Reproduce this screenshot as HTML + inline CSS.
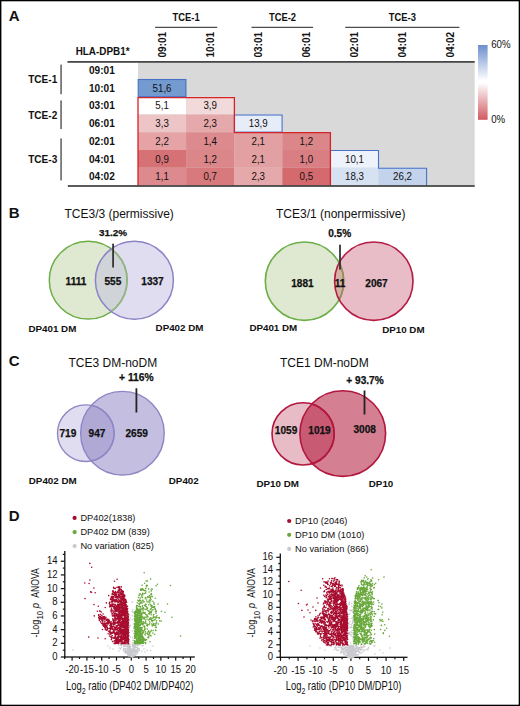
<!DOCTYPE html>
<html><head><meta charset="utf-8"><style>
html,body{margin:0;padding:0;background:#fff;}
svg{display:block;}
text{font-family:"Liberation Sans", sans-serif;fill:#111;}
.b{font-weight:bold;}
</style></head><body>
<svg width="520" height="706" viewBox="0 0 520 706">
<defs>
<linearGradient id="cb" x1="0" y1="0" x2="0" y2="1">
<stop offset="0" stop-color="#6a8fcc"/>
<stop offset="0.475" stop-color="#ffffff"/>
<stop offset="0.505" stop-color="#ffffff"/>
<stop offset="1" stop-color="#d05a62"/>
</linearGradient>
</defs>
<rect x="0" y="0" width="520" height="706" fill="#fff"/>

<text class="b" x="8.8" y="20.8" font-size="15">A</text>
<text class="b" x="8.8" y="217.6" font-size="15">B</text>
<text class="b" x="8.8" y="366.4" font-size="15">C</text>
<text class="b" x="8.8" y="520.9" font-size="15">D</text>
<rect x="138.0" y="62.5" width="336.70" height="123.0" fill="#d9d9d9"/>
<rect x="138.00" y="79.00" width="48.10" height="17.75" fill="#739bd0"/>
<rect x="138.00" y="96.75" width="48.10" height="17.75" fill="#ffffff"/>
<rect x="186.10" y="96.75" width="48.10" height="17.75" fill="#f2d9da"/>
<rect x="138.00" y="114.50" width="48.10" height="17.75" fill="#eec5c7"/>
<rect x="186.10" y="114.50" width="48.10" height="17.75" fill="#e6a9ab"/>
<rect x="234.20" y="114.50" width="48.10" height="17.75" fill="#e6edf8"/>
<rect x="138.00" y="132.25" width="48.10" height="17.75" fill="#e5a3a5"/>
<rect x="186.10" y="132.25" width="48.10" height="17.75" fill="#dc8a8d"/>
<rect x="234.20" y="132.25" width="48.10" height="17.75" fill="#e3a0a2"/>
<rect x="282.30" y="132.25" width="48.10" height="17.75" fill="#db878a"/>
<rect x="138.00" y="150.00" width="48.10" height="17.75" fill="#d67276"/>
<rect x="186.10" y="150.00" width="48.10" height="17.75" fill="#db878a"/>
<rect x="234.20" y="150.00" width="48.10" height="17.75" fill="#e3a0a2"/>
<rect x="282.30" y="150.00" width="48.10" height="17.75" fill="#d97f83"/>
<rect x="330.40" y="150.00" width="48.10" height="17.75" fill="#eef2fa"/>
<rect x="138.00" y="167.75" width="48.10" height="17.75" fill="#dc8a8d"/>
<rect x="186.10" y="167.75" width="48.10" height="17.75" fill="#d87a7d"/>
<rect x="234.20" y="167.75" width="48.10" height="17.75" fill="#e6a9ab"/>
<rect x="282.30" y="167.75" width="48.10" height="17.75" fill="#d4696e"/>
<rect x="330.40" y="167.75" width="48.10" height="17.75" fill="#d6e1f2"/>
<rect x="378.50" y="167.75" width="48.10" height="17.75" fill="#c3d3ec"/>
<text transform="translate(162.05,91.58) scale(0.92,1)" font-size="10.6" text-anchor="middle">51,6</text>
<text transform="translate(162.05,109.33) scale(0.92,1)" font-size="10.6" text-anchor="middle">5,1</text>
<text transform="translate(210.15,109.33) scale(0.92,1)" font-size="10.6" text-anchor="middle">3,9</text>
<text transform="translate(162.05,127.08) scale(0.92,1)" font-size="10.6" text-anchor="middle">3,3</text>
<text transform="translate(210.15,127.08) scale(0.92,1)" font-size="10.6" text-anchor="middle">2,3</text>
<text transform="translate(258.25,127.08) scale(0.92,1)" font-size="10.6" text-anchor="middle">13,9</text>
<text transform="translate(162.05,144.82) scale(0.92,1)" font-size="10.6" text-anchor="middle">2,2</text>
<text transform="translate(210.15,144.82) scale(0.92,1)" font-size="10.6" text-anchor="middle">1,4</text>
<text transform="translate(258.25,144.82) scale(0.92,1)" font-size="10.6" text-anchor="middle">2,1</text>
<text transform="translate(306.35,144.82) scale(0.92,1)" font-size="10.6" text-anchor="middle">1,2</text>
<text transform="translate(162.05,162.57) scale(0.92,1)" font-size="10.6" text-anchor="middle">0,9</text>
<text transform="translate(210.15,162.57) scale(0.92,1)" font-size="10.6" text-anchor="middle">1,2</text>
<text transform="translate(258.25,162.57) scale(0.92,1)" font-size="10.6" text-anchor="middle">2,1</text>
<text transform="translate(306.35,162.57) scale(0.92,1)" font-size="10.6" text-anchor="middle">1,0</text>
<text transform="translate(354.45,162.57) scale(0.92,1)" font-size="10.6" text-anchor="middle">10,1</text>
<text transform="translate(162.05,180.32) scale(0.92,1)" font-size="10.6" text-anchor="middle">1,1</text>
<text transform="translate(210.15,180.32) scale(0.92,1)" font-size="10.6" text-anchor="middle">0,7</text>
<text transform="translate(258.25,180.32) scale(0.92,1)" font-size="10.6" text-anchor="middle">2,3</text>
<text transform="translate(306.35,180.32) scale(0.92,1)" font-size="10.6" text-anchor="middle">0,5</text>
<text transform="translate(354.45,180.32) scale(0.92,1)" font-size="10.6" text-anchor="middle">18,3</text>
<text transform="translate(402.55,180.32) scale(0.92,1)" font-size="10.6" text-anchor="middle">26,2</text>
<rect x="138.20" y="79.50" width="47.70" height="17.15" fill="none" stroke="#4a72c4" stroke-width="1.1"/>
<rect x="234.40" y="115.00" width="47.70" height="17.15" fill="none" stroke="#4a72c4" stroke-width="1.1"/>
<path d="M330.40 150.50H378.50V168.25H426.60V185.50" fill="none" stroke="#4a72c4" stroke-width="1.1"/>
<path d="M138.00 185.50V97.60H234.40V132.60H330.40V185.50" fill="none" stroke="#d42428" stroke-width="1.3"/>
<rect x="67.5" y="61.1" width="407.2" height="1.6" fill="#333"/>
<rect x="67.8" y="185.2" width="406.9" height="1.6" fill="#333"/>
<text class="b" transform="translate(186.1,20.9) scale(0.84,1)" font-size="11.2" text-anchor="middle">TCE-1</text>
<rect x="155.1" y="26.8" width="62.1" height="1" fill="#222"/>
<text class="b" transform="translate(282.5,20.9) scale(0.84,1)" font-size="11.2" text-anchor="middle">TCE-2</text>
<rect x="251.5" y="26.8" width="61.6" height="1" fill="#222"/>
<text class="b" transform="translate(402.3,20.9) scale(0.84,1)" font-size="11.2" text-anchor="middle">TCE-3</text>
<rect x="345.2" y="26.8" width="114.2" height="1" fill="#222"/>
<text class="b" transform="translate(165.65,57.6) rotate(-90) scale(0.9,1)" font-size="11.2">09:01</text>
<text class="b" transform="translate(213.75,57.6) rotate(-90) scale(0.9,1)" font-size="11.2">10:01</text>
<text class="b" transform="translate(261.85,57.6) rotate(-90) scale(0.9,1)" font-size="11.2">03:01</text>
<text class="b" transform="translate(309.95,57.6) rotate(-90) scale(0.9,1)" font-size="11.2">06:01</text>
<text class="b" transform="translate(358.05,57.6) rotate(-90) scale(0.9,1)" font-size="11.2">02:01</text>
<text class="b" transform="translate(406.15,57.6) rotate(-90) scale(0.9,1)" font-size="11.2">04:01</text>
<text class="b" transform="translate(454.25,57.6) rotate(-90) scale(0.9,1)" font-size="11.2">04:02</text>
<text class="b" transform="translate(102.6,55.3) scale(0.9,1)" font-size="11" text-anchor="middle">HLA-DPB1*</text>
<text class="b" transform="translate(101.9,73.88) scale(0.9,1)" font-size="11.2" text-anchor="middle">09:01</text>
<text class="b" transform="translate(101.9,91.62) scale(0.9,1)" font-size="11.2" text-anchor="middle">10:01</text>
<text class="b" transform="translate(101.9,109.38) scale(0.9,1)" font-size="11.2" text-anchor="middle">03:01</text>
<text class="b" transform="translate(101.9,127.12) scale(0.9,1)" font-size="11.2" text-anchor="middle">06:01</text>
<text class="b" transform="translate(101.9,144.88) scale(0.9,1)" font-size="11.2" text-anchor="middle">02:01</text>
<text class="b" transform="translate(101.9,162.62) scale(0.9,1)" font-size="11.2" text-anchor="middle">04:01</text>
<text class="b" transform="translate(101.9,180.38) scale(0.9,1)" font-size="11.2" text-anchor="middle">04:02</text>
<text class="b" transform="translate(42.7,83.1) scale(0.9,1)" font-size="11.2" text-anchor="middle">TCE-1</text>
<rect x="60.5" y="64.6" width="1.1" height="29.6" fill="#222"/>
<text class="b" transform="translate(42.7,118.5) scale(0.9,1)" font-size="11.2" text-anchor="middle">TCE-2</text>
<rect x="60.5" y="100.4" width="1.1" height="28.6" fill="#222"/>
<text class="b" transform="translate(42.7,162.7) scale(0.9,1)" font-size="11.2" text-anchor="middle">TCE-3</text>
<rect x="60.5" y="138.4" width="1.1" height="42.0" fill="#222"/>
<rect x="478" y="45" width="9.6" height="74.8" fill="url(#cb)"/>
<text transform="translate(491.2,47.9) scale(0.88,1)" font-size="11">60%</text>
<text transform="translate(491.2,122.7) scale(0.88,1)" font-size="11">0%</text>
<text x="64.5" y="218" font-size="12">TCE3/3 (permissive)</text>
<text x="276" y="218" font-size="12">TCE3/1 (nonpermissive)</text>
<clipPath id="va1"><circle cx="88.2" cy="280.2" r="38.9"/></clipPath>
<clipPath id="vb1"><circle cx="134.4" cy="280.2" r="39.0"/></clipPath>
<circle cx="88.2" cy="280.2" r="38.9" fill="#dfe8d0"/>
<circle cx="134.4" cy="280.2" r="39.0" fill="#e0ddf0"/>
<circle cx="134.4" cy="280.2" r="39.0" fill="#d0d4d8" clip-path="url(#va1)"/>
<circle cx="88.2" cy="280.2" r="38.9" fill="none" stroke="#6cae48" stroke-width="1.5"/>
<circle cx="88.2" cy="280.2" r="38.9" fill="none" stroke="#94b585" stroke-width="1.5" clip-path="url(#vb1)"/>
<circle cx="134.4" cy="280.2" r="39.0" fill="none" stroke="#8a84c6" stroke-width="1.5"/>
<rect x="112.2" y="243.7" width="1.8" height="23.8" fill="#333"/>
<text class="b" x="113" y="236.3" font-size="9.9" text-anchor="middle" stroke="#111" stroke-width="0.25">31.2%</text>
<text class="b" x="76" y="284.6" font-size="10.1" text-anchor="middle" stroke="#111" stroke-width="0.25">1111</text>
<text class="b" x="112.9" y="284.6" font-size="10.1" text-anchor="middle" stroke="#111" stroke-width="0.25">555</text>
<text class="b" x="152.5" y="284.6" font-size="10.1" text-anchor="middle" stroke="#111" stroke-width="0.25">1337</text>
<text class="b" transform="translate(28.5,332.1) scale(1.1,1)" font-size="8.9">DP401 DM</text>
<text class="b" transform="translate(155.6,330.7) scale(1.1,1)" font-size="8.9">DP402 DM</text>
<clipPath id="va2"><circle cx="304.5" cy="281.2" r="39.2"/></clipPath>
<clipPath id="vb2"><circle cx="373.8" cy="281.2" r="39.2"/></clipPath>
<circle cx="304.5" cy="281.2" r="39.2" fill="#dfe8d0"/>
<circle cx="373.8" cy="281.2" r="39.2" fill="#e8bdc8"/>
<circle cx="373.8" cy="281.2" r="39.2" fill="#d5b0a6" clip-path="url(#va2)"/>
<circle cx="304.5" cy="281.2" r="39.2" fill="none" stroke="#6cae48" stroke-width="1.6"/>
<circle cx="304.5" cy="281.2" r="39.2" fill="none" stroke="#9c8a5a" stroke-width="1.6" clip-path="url(#vb2)"/>
<circle cx="373.8" cy="281.2" r="39.2" fill="none" stroke="#b51c45" stroke-width="1.6"/>
<rect x="339.1" y="244.7" width="1.8" height="24.9" fill="#333"/>
<text class="b" x="339.7" y="237.2" font-size="10.1" text-anchor="middle" stroke="#111" stroke-width="0.25">0.5%</text>
<text class="b" x="302.4" y="287" font-size="10.1" text-anchor="middle" stroke="#111" stroke-width="0.25">1881</text>
<text class="b" x="340" y="287" font-size="10.1" text-anchor="middle" stroke="#111" stroke-width="0.25">11</text>
<text class="b" x="376.5" y="287" font-size="10.1" text-anchor="middle" stroke="#111" stroke-width="0.25">2067</text>
<text class="b" transform="translate(249.4,331.0) scale(1.1,1)" font-size="8.9">DP401 DM</text>
<text class="b" transform="translate(382.2,332.5) scale(1.1,1)" font-size="8.9">DP10 DM</text>
<text x="68.5" y="366.8" font-size="12">TCE3 DM-noDM</text>
<text x="280" y="367.2" font-size="12">TCE1 DM-noDM</text>
<clipPath id="va3"><circle cx="85.8" cy="433.2" r="28.3"/></clipPath>
<clipPath id="vb3"><circle cx="122.45" cy="433.2" r="41.8"/></clipPath>
<circle cx="85.8" cy="433.2" r="28.3" fill="#e1ddf0"/>
<circle cx="122.45" cy="433.2" r="41.8" fill="#c4bfe0"/>
<circle cx="122.45" cy="433.2" r="41.8" fill="#b1a9d5" clip-path="url(#va3)"/>
<circle cx="85.8" cy="433.2" r="28.3" fill="none" stroke="#8e86c4" stroke-width="1.4"/>
<circle cx="85.8" cy="433.2" r="28.3" fill="none" stroke="#8e86c4" stroke-width="1.4" clip-path="url(#vb3)"/>
<circle cx="122.45" cy="433.2" r="41.8" fill="none" stroke="#8e86c4" stroke-width="1.4"/>
<rect x="135.5" y="388.3" width="1.8" height="24.2" fill="#222"/>
<text class="b" x="136.4" y="381.3" font-size="10.3" text-anchor="middle" stroke="#111" stroke-width="0.25">+ 116%</text>
<text class="b" x="67.9" y="436.5" font-size="10.1" text-anchor="middle" stroke="#111" stroke-width="0.25">719</text>
<text class="b" x="97" y="436.5" font-size="10.1" text-anchor="middle" stroke="#111" stroke-width="0.25">947</text>
<text class="b" x="136.7" y="436.5" font-size="10.1" text-anchor="middle" stroke="#111" stroke-width="0.25">2659</text>
<text class="b" transform="translate(28.8,483.8) scale(1.1,1)" font-size="8.9">DP402 DM</text>
<text class="b" transform="translate(168.8,483.8) scale(1.1,1)" font-size="8.9">DP402</text>
<clipPath id="va4"><circle cx="303.1" cy="433.85" r="31.1"/></clipPath>
<clipPath id="vb4"><circle cx="342.75" cy="433.55" r="42.85"/></clipPath>
<circle cx="303.1" cy="433.85" r="31.1" fill="#e8bcc6"/>
<circle cx="342.75" cy="433.55" r="42.85" fill="#d47f92"/>
<circle cx="342.75" cy="433.55" r="42.85" fill="#c85a74" clip-path="url(#va4)"/>
<circle cx="303.1" cy="433.85" r="31.1" fill="none" stroke="#b3173f" stroke-width="1.6"/>
<circle cx="303.1" cy="433.85" r="31.1" fill="none" stroke="#b3173f" stroke-width="1.6" clip-path="url(#vb4)"/>
<circle cx="342.75" cy="433.55" r="42.85" fill="none" stroke="#b3173f" stroke-width="1.6"/>
<rect x="363.6" y="390.5" width="1.8" height="24" fill="#222"/>
<text class="b" x="365" y="383.5" font-size="10.1" text-anchor="middle" stroke="#111" stroke-width="0.25">+ 93.7%</text>
<text class="b" x="286.1" y="433.8" font-size="10.1" text-anchor="middle" stroke="#111" stroke-width="0.25">1059</text>
<text class="b" x="319.5" y="433.8" font-size="10.1" text-anchor="middle" stroke="#111" stroke-width="0.25">1019</text>
<text class="b" x="364.7" y="432.5" font-size="10.1" text-anchor="middle" stroke="#111" stroke-width="0.25">3008</text>
<text class="b" transform="translate(256.5,487.0) scale(1.1,1)" font-size="8.9">DP10 DM</text>
<text class="b" transform="translate(368.8,487.0) scale(1.1,1)" font-size="8.9">DP10</text>
<circle cx="74.6" cy="517.90" r="2.1" fill="#a80d30"/>
<text x="80.40" y="521.1" font-size="9.25">DP402(1838)</text>
<circle cx="74.6" cy="532.10" r="2.1" fill="#69a93c"/>
<text x="80.40" y="535.3" font-size="9.25">DP402 DM (839)</text>
<circle cx="74.6" cy="546.10" r="2.1" fill="#c9c9d0"/>
<text x="80.40" y="549.3" font-size="9.25">No variation (825)</text>
<circle cx="289.2" cy="521.00" r="2.1" fill="#a80d30"/>
<text x="295.00" y="524.2" font-size="9.25">DP10 (2046)</text>
<circle cx="289.2" cy="534.80" r="2.1" fill="#69a93c"/>
<text x="295.00" y="538.0" font-size="9.25">DP10 DM (1010)</text>
<circle cx="289.2" cy="548.90" r="2.1" fill="#c9c9d0"/>
<text x="295.00" y="552.1" font-size="9.25">No variation (866)</text>
<rect x="64.15" y="551" width="1.3" height="106.60" fill="#111"/>
<rect x="60.80" y="656.40" width="4" height="1.2" fill="#111"/>
<text transform="translate(57.50,660.10) scale(0.9,1)" font-size="10.6" text-anchor="end">0</text>
<rect x="62.80" y="649.56" width="2" height="1.2" fill="#111"/>
<rect x="60.80" y="642.72" width="4" height="1.2" fill="#111"/>
<text transform="translate(57.50,646.42) scale(0.9,1)" font-size="10.6" text-anchor="end">2</text>
<rect x="62.80" y="635.88" width="2" height="1.2" fill="#111"/>
<rect x="60.80" y="629.04" width="4" height="1.2" fill="#111"/>
<text transform="translate(57.50,632.74) scale(0.9,1)" font-size="10.6" text-anchor="end">4</text>
<rect x="62.80" y="622.20" width="2" height="1.2" fill="#111"/>
<rect x="60.80" y="615.36" width="4" height="1.2" fill="#111"/>
<text transform="translate(57.50,619.06) scale(0.9,1)" font-size="10.6" text-anchor="end">6</text>
<rect x="62.80" y="608.52" width="2" height="1.2" fill="#111"/>
<rect x="60.80" y="601.68" width="4" height="1.2" fill="#111"/>
<text transform="translate(57.50,605.38) scale(0.9,1)" font-size="10.6" text-anchor="end">8</text>
<rect x="62.80" y="594.84" width="2" height="1.2" fill="#111"/>
<rect x="60.80" y="588.00" width="4" height="1.2" fill="#111"/>
<text transform="translate(57.50,591.70) scale(0.9,1)" font-size="10.6" text-anchor="end">10</text>
<rect x="62.80" y="581.16" width="2" height="1.2" fill="#111"/>
<rect x="60.80" y="574.32" width="4" height="1.2" fill="#111"/>
<text transform="translate(57.50,578.02) scale(0.9,1)" font-size="10.6" text-anchor="end">12</text>
<rect x="62.80" y="567.48" width="2" height="1.2" fill="#111"/>
<rect x="60.80" y="560.64" width="4" height="1.2" fill="#111"/>
<text transform="translate(57.50,564.34) scale(0.9,1)" font-size="10.6" text-anchor="end">14</text>
<rect x="62.80" y="553.80" width="2" height="1.2" fill="#111"/>
<rect x="64.20" y="656.35" width="130.60" height="1.3" fill="#111"/>
<rect x="71.50" y="657.0" width="1.2" height="3.6" fill="#111"/>
<text transform="translate(72.10,673.40) scale(0.9,1)" font-size="10.6" text-anchor="middle">-20</text>
<rect x="86.30" y="657.0" width="1.2" height="3.6" fill="#111"/>
<text transform="translate(86.90,673.40) scale(0.9,1)" font-size="10.6" text-anchor="middle">-15</text>
<rect x="101.10" y="657.0" width="1.2" height="3.6" fill="#111"/>
<text transform="translate(101.70,673.40) scale(0.9,1)" font-size="10.6" text-anchor="middle">-10</text>
<rect x="115.90" y="657.0" width="1.2" height="3.6" fill="#111"/>
<text transform="translate(116.50,673.40) scale(0.9,1)" font-size="10.6" text-anchor="middle">-5</text>
<rect x="130.70" y="657.0" width="1.2" height="3.6" fill="#111"/>
<text transform="translate(131.30,673.40) scale(0.9,1)" font-size="10.6" text-anchor="middle">0</text>
<rect x="145.50" y="657.0" width="1.2" height="3.6" fill="#111"/>
<text transform="translate(146.10,673.40) scale(0.9,1)" font-size="10.6" text-anchor="middle">5</text>
<rect x="160.30" y="657.0" width="1.2" height="3.6" fill="#111"/>
<text transform="translate(160.90,673.40) scale(0.9,1)" font-size="10.6" text-anchor="middle">10</text>
<rect x="175.10" y="657.0" width="1.2" height="3.6" fill="#111"/>
<text transform="translate(175.70,673.40) scale(0.9,1)" font-size="10.6" text-anchor="middle">15</text>
<rect x="189.90" y="657.0" width="1.2" height="3.6" fill="#111"/>
<text transform="translate(190.50,673.40) scale(0.9,1)" font-size="10.6" text-anchor="middle">20</text>
<rect x="64.10" y="657.0" width="1.2" height="2" fill="#111"/>
<rect x="78.90" y="657.0" width="1.2" height="2" fill="#111"/>
<rect x="93.70" y="657.0" width="1.2" height="2" fill="#111"/>
<rect x="108.50" y="657.0" width="1.2" height="2" fill="#111"/>
<rect x="123.30" y="657.0" width="1.2" height="2" fill="#111"/>
<rect x="138.10" y="657.0" width="1.2" height="2" fill="#111"/>
<rect x="152.90" y="657.0" width="1.2" height="2" fill="#111"/>
<rect x="167.70" y="657.0" width="1.2" height="2" fill="#111"/>
<rect x="182.50" y="657.0" width="1.2" height="2" fill="#111"/>
<rect x="279.65" y="553.5" width="1.3" height="104.40" fill="#111"/>
<rect x="276.30" y="656.70" width="4" height="1.2" fill="#111"/>
<text transform="translate(273.00,660.40) scale(0.9,1)" font-size="10.6" text-anchor="end">0</text>
<rect x="278.30" y="650.45" width="2" height="1.2" fill="#111"/>
<rect x="276.30" y="644.20" width="4" height="1.2" fill="#111"/>
<text transform="translate(273.00,647.90) scale(0.9,1)" font-size="10.6" text-anchor="end">2</text>
<rect x="278.30" y="637.95" width="2" height="1.2" fill="#111"/>
<rect x="276.30" y="631.70" width="4" height="1.2" fill="#111"/>
<text transform="translate(273.00,635.40) scale(0.9,1)" font-size="10.6" text-anchor="end">4</text>
<rect x="278.30" y="625.45" width="2" height="1.2" fill="#111"/>
<rect x="276.30" y="619.20" width="4" height="1.2" fill="#111"/>
<text transform="translate(273.00,622.90) scale(0.9,1)" font-size="10.6" text-anchor="end">6</text>
<rect x="278.30" y="612.95" width="2" height="1.2" fill="#111"/>
<rect x="276.30" y="606.70" width="4" height="1.2" fill="#111"/>
<text transform="translate(273.00,610.40) scale(0.9,1)" font-size="10.6" text-anchor="end">8</text>
<rect x="278.30" y="600.45" width="2" height="1.2" fill="#111"/>
<rect x="276.30" y="594.20" width="4" height="1.2" fill="#111"/>
<text transform="translate(273.00,597.90) scale(0.9,1)" font-size="10.6" text-anchor="end">10</text>
<rect x="278.30" y="587.95" width="2" height="1.2" fill="#111"/>
<rect x="276.30" y="581.70" width="4" height="1.2" fill="#111"/>
<text transform="translate(273.00,585.40) scale(0.9,1)" font-size="10.6" text-anchor="end">12</text>
<rect x="278.30" y="575.45" width="2" height="1.2" fill="#111"/>
<rect x="276.30" y="569.20" width="4" height="1.2" fill="#111"/>
<text transform="translate(273.00,572.90) scale(0.9,1)" font-size="10.6" text-anchor="end">14</text>
<rect x="278.30" y="562.95" width="2" height="1.2" fill="#111"/>
<rect x="276.30" y="556.70" width="4" height="1.2" fill="#111"/>
<text transform="translate(273.00,560.40) scale(0.9,1)" font-size="10.6" text-anchor="end">16</text>
<rect x="279.60" y="656.65" width="127.90" height="1.3" fill="#111"/>
<rect x="279.90" y="657.3" width="1.2" height="3.6" fill="#111"/>
<text transform="translate(280.50,673.70) scale(0.9,1)" font-size="10.6" text-anchor="middle">-20</text>
<rect x="297.50" y="657.3" width="1.2" height="3.6" fill="#111"/>
<text transform="translate(298.10,673.70) scale(0.9,1)" font-size="10.6" text-anchor="middle">-15</text>
<rect x="315.10" y="657.3" width="1.2" height="3.6" fill="#111"/>
<text transform="translate(315.70,673.70) scale(0.9,1)" font-size="10.6" text-anchor="middle">-10</text>
<rect x="332.70" y="657.3" width="1.2" height="3.6" fill="#111"/>
<text transform="translate(333.30,673.70) scale(0.9,1)" font-size="10.6" text-anchor="middle">-5</text>
<rect x="350.30" y="657.3" width="1.2" height="3.6" fill="#111"/>
<text transform="translate(350.90,673.70) scale(0.9,1)" font-size="10.6" text-anchor="middle">0</text>
<rect x="367.90" y="657.3" width="1.2" height="3.6" fill="#111"/>
<text transform="translate(368.50,673.70) scale(0.9,1)" font-size="10.6" text-anchor="middle">5</text>
<rect x="385.50" y="657.3" width="1.2" height="3.6" fill="#111"/>
<text transform="translate(386.10,673.70) scale(0.9,1)" font-size="10.6" text-anchor="middle">10</text>
<rect x="403.10" y="657.3" width="1.2" height="3.6" fill="#111"/>
<text transform="translate(403.70,673.70) scale(0.9,1)" font-size="10.6" text-anchor="middle">15</text>
<rect x="288.70" y="657.3" width="1.2" height="2" fill="#111"/>
<rect x="306.30" y="657.3" width="1.2" height="2" fill="#111"/>
<rect x="323.90" y="657.3" width="1.2" height="2" fill="#111"/>
<rect x="341.50" y="657.3" width="1.2" height="2" fill="#111"/>
<rect x="359.10" y="657.3" width="1.2" height="2" fill="#111"/>
<rect x="376.70" y="657.3" width="1.2" height="2" fill="#111"/>
<rect x="394.30" y="657.3" width="1.2" height="2" fill="#111"/>
<text transform="translate(65.9,690.4) scale(0.765,1)" font-size="12.4">Log<tspan font-size="9.2" dy="4">2</tspan><tspan dy="-4"> ratio (DP402 DM/DP402)</tspan></text>
<text transform="translate(285.8,690.4) scale(0.755,1)" font-size="12.4">Log<tspan font-size="9.2" dy="4">2</tspan><tspan dy="-4"> ratio (DP10 DM/DP10)</tspan></text>
<text transform="translate(38.90,637.6) rotate(-90) scale(0.76,1)" font-size="11.8">-Log</text>
<text transform="translate(43.30,619.6) rotate(-90) scale(0.85,1)" font-size="9.2">10</text>
<text transform="translate(38.90,608.2) rotate(-90) scale(0.8,1)" font-size="11.8" font-style="italic">p</text>
<text transform="translate(38.90,597.7) rotate(-90) scale(0.73,1)" font-size="11.8">ANOVA</text>
<text transform="translate(255.10,637.6) rotate(-90) scale(0.76,1)" font-size="11.8">-Log</text>
<text transform="translate(259.50,619.6) rotate(-90) scale(0.85,1)" font-size="9.2">10</text>
<text transform="translate(255.10,608.2) rotate(-90) scale(0.8,1)" font-size="11.8" font-style="italic">p</text>
<text transform="translate(255.10,597.7) rotate(-90) scale(0.73,1)" font-size="11.8">ANOVA</text>
<path d="M126.3 651.8h0M134.8 645.0h0M130.8 656.4h0M138.5 649.3h0M130.7 654.4h0M133.6 645.0h0M134.3 647.1h0M130.8 652.9h0M129.4 651.6h0M131.1 650.9h0M131.3 649.5h0M120.5 648.2h0M135.7 650.6h0M135.4 654.8h0M125.8 650.6h0M131.2 653.6h0M130.5 646.4h0M130.9 653.4h0M127.1 644.4h0M142.1 645.9h0M130.9 652.1h0M136.6 649.9h0M128.3 647.6h0M130.3 652.9h0M133.4 645.5h0M132.9 650.4h0M133.8 655.5h0M124.5 644.6h0M132.4 650.1h0M133.0 649.6h0M128.9 650.5h0M132.6 649.3h0M123.7 645.5h0M129.7 647.2h0M127.8 648.3h0M121.8 647.0h0M127.6 654.0h0M128.4 646.0h0M132.8 651.0h0M128.8 655.3h0M129.4 655.6h0M134.5 646.5h0M135.2 652.5h0M125.0 649.7h0M128.8 654.4h0M129.3 644.9h0M136.2 652.3h0M133.1 651.6h0M127.8 654.8h0M130.7 655.9h0M129.5 648.3h0M132.4 644.8h0M134.5 645.7h0M131.7 650.2h0M131.5 654.2h0M130.3 656.1h0M138.0 648.4h0M129.4 649.7h0M126.6 645.9h0M138.9 645.0h0M131.1 649.5h0M133.3 648.2h0M120.3 645.2h0M132.4 644.8h0M131.0 649.1h0M131.7 654.7h0M129.5 650.6h0M129.6 644.7h0M127.8 652.5h0M132.3 652.7h0M133.3 652.9h0M129.5 645.7h0M133.8 651.3h0M130.4 649.4h0M135.1 645.7h0M127.0 646.8h0M139.5 650.5h0M131.5 652.9h0M128.9 647.0h0M137.2 647.3h0M133.4 647.8h0M135.3 652.6h0M128.1 648.7h0M128.2 650.5h0M120.5 644.9h0M128.0 653.7h0M126.2 653.0h0M131.0 649.2h0M129.2 654.6h0M120.6 649.1h0M129.6 652.0h0M137.7 647.7h0M130.8 655.2h0M129.4 646.6h0M128.0 651.3h0M131.8 652.9h0M127.8 646.3h0M135.1 649.3h0M137.9 651.1h0M132.7 651.1h0M135.5 654.0h0M130.4 651.3h0M132.2 649.9h0M132.3 654.1h0M131.3 650.7h0M134.5 655.0h0M134.7 651.1h0M127.8 653.0h0M125.2 645.2h0M128.9 644.9h0M131.3 651.7h0M134.8 648.9h0M127.4 653.6h0M131.9 652.1h0M134.3 655.5h0M128.7 647.8h0M123.4 650.6h0M134.9 654.6h0M136.6 651.4h0M131.6 655.7h0M129.8 650.1h0M130.1 644.6h0M138.9 648.9h0M130.0 652.1h0M127.8 654.8h0M129.7 649.5h0M120.7 644.7h0M136.3 651.4h0M126.5 652.6h0M130.3 649.3h0M129.5 654.8h0M129.6 652.1h0M128.4 645.4h0M133.3 646.4h0M130.5 652.7h0M123.9 646.1h0M132.9 650.9h0M135.7 646.0h0M134.5 650.7h0M125.1 652.9h0M124.0 649.3h0M127.8 655.0h0M129.4 655.5h0M131.6 655.4h0M127.0 651.4h0M127.2 650.2h0M137.4 649.8h0M121.2 645.3h0M124.0 651.3h0M133.0 650.6h0M137.7 648.1h0M126.5 646.7h0M124.7 648.8h0M132.4 651.7h0M130.1 652.1h0M131.8 650.0h0M137.4 648.6h0M134.3 649.5h0M129.4 645.7h0M135.2 651.3h0M131.0 655.8h0M130.7 650.1h0M133.9 646.3h0M134.3 648.2h0M131.4 649.3h0M131.7 654.0h0M131.1 651.0h0M128.2 644.6h0M137.8 645.5h0M135.7 654.0h0M135.2 651.8h0M131.6 657.0h0M132.6 645.7h0M118.7 645.1h0M131.6 651.6h0M120.7 645.3h0M124.8 648.9h0M132.6 656.9h0M127.2 645.4h0M127.6 649.8h0M138.9 648.9h0M127.4 644.6h0M130.8 653.0h0M127.3 650.7h0M134.4 652.7h0M125.1 646.5h0M133.4 655.3h0M134.6 652.5h0M131.6 654.3h0M132.1 651.6h0M136.1 647.2h0M130.7 652.8h0M123.7 646.7h0M139.3 644.7h0M123.5 648.8h0M133.9 651.2h0M133.5 649.1h0M128.0 653.2h0M136.8 644.8h0M129.1 654.0h0M135.9 644.6h0M133.4 654.8h0M129.7 646.5h0M130.4 648.0h0M130.3 654.5h0M131.6 650.0h0M139.1 648.6h0M130.0 653.1h0M127.6 653.7h0M129.2 648.6h0M133.9 651.9h0M132.9 648.1h0M132.1 655.4h0M125.9 648.8h0M130.3 656.1h0M129.2 647.0h0M132.7 656.9h0M125.2 651.8h0M129.4 648.3h0M123.8 646.3h0M134.5 651.0h0M138.0 648.4h0M130.1 647.1h0M131.4 653.7h0M133.7 649.8h0M127.0 644.3h0M130.3 648.6h0M131.1 654.6h0M135.6 645.1h0M135.1 647.0h0M129.9 648.6h0M142.5 645.7h0M128.4 647.5h0M130.7 652.4h0M127.3 645.0h0M132.8 651.5h0M135.5 647.6h0M138.7 649.6h0M132.7 653.4h0M127.3 648.4h0M128.9 651.0h0M128.8 652.6h0M132.9 644.8h0M130.7 654.3h0M128.5 649.0h0M128.8 645.8h0M128.5 649.1h0M127.4 645.6h0M128.1 652.9h0M135.2 650.4h0M126.9 644.3h0M130.5 648.1h0M135.1 651.3h0M130.4 646.9h0M128.8 655.9h0M129.5 655.3h0M133.0 649.6h0M134.0 650.5h0M130.0 648.0h0M130.7 655.6h0M133.8 648.5h0M134.9 649.5h0M131.5 655.7h0M138.1 651.8h0M133.3 644.9h0M132.3 655.7h0M137.5 653.1h0M121.4 645.2h0M132.4 651.8h0M133.0 652.1h0M133.2 656.4h0M125.0 649.0h0M132.2 646.1h0M133.3 655.4h0M130.8 649.9h0M137.5 645.3h0M131.1 652.0h0M123.5 644.7h0M138.3 649.2h0M128.5 655.5h0M136.8 649.9h0M135.1 655.4h0M143.0 645.6h0M129.4 650.9h0M132.4 652.1h0M119.4 648.0h0M128.6 651.5h0M130.8 656.4h0M129.5 648.3h0M129.2 648.2h0M125.5 652.0h0M135.8 652.7h0M136.5 654.2h0M131.2 656.8h0M134.4 645.0h0M133.0 653.1h0M139.0 649.3h0M131.9 649.2h0M129.0 633.0h0M132.6 609.9h0M129.7 620.3h0M128.9 635.6h0M132.3 611.4h0M130.5 618.0h0M129.8 626.5h0M132.5 637.6h0M133.5 633.5h0M132.2 602.3h0M134.0 628.4h0M132.3 615.8h0M132.4 631.0h0M129.0 632.9h0M132.9 640.3h0M133.7 640.2h0M133.0 612.4h0M130.4 625.3h0M132.3 619.5h0M130.3 637.1h0M129.3 620.7h0M132.4 643.1h0M129.8 641.5h0M132.5 602.1h0M133.9 628.7h0M129.6 614.9h0M147.2 650.4h0M150.6 650.4h0M73.0 650.0h0M110.0 648.0h0M153.0 646.0h0M108.0 646.0h0M145.0 652.0h0M113.0 649.0h0M142.0 651.0h0M144.0 649.0h0M119.0 651.0h0" stroke="#c9c9d0" stroke-width="1.5" stroke-linecap="round" fill="none"/>
<path d="M117.1 633.8h0M114.3 594.3h0M114.7 633.2h0M120.3 622.9h0M119.6 589.6h0M127.7 613.4h0M125.1 635.9h0M112.0 599.4h0M118.3 620.1h0M116.4 609.1h0M121.3 589.6h0M120.9 594.6h0M115.5 607.0h0M125.7 643.4h0M118.3 591.0h0M127.8 616.5h0M128.4 635.9h0M113.7 607.2h0M128.5 635.3h0M125.1 628.8h0M119.0 606.6h0M112.9 599.1h0M126.8 634.6h0M121.7 632.2h0M123.7 613.6h0M125.3 642.7h0M115.5 617.7h0M112.7 600.6h0M113.3 619.9h0M124.7 596.0h0M123.2 618.2h0M127.0 611.6h0M127.6 626.4h0M124.4 637.8h0M123.0 624.2h0M126.4 641.9h0M115.3 597.3h0M119.7 611.5h0M124.5 642.2h0M127.0 633.3h0M120.0 626.5h0M121.3 632.3h0M126.0 612.2h0M119.7 639.6h0M113.3 592.3h0M114.3 614.9h0M125.1 611.0h0M125.4 608.7h0M122.4 642.8h0M125.4 626.8h0M116.7 606.1h0M123.5 600.8h0M126.2 624.8h0M111.6 611.8h0M128.0 642.2h0M114.7 606.6h0M112.5 615.2h0M123.0 636.8h0M115.1 642.9h0M123.2 623.2h0M125.4 637.6h0M123.4 632.9h0M124.8 633.8h0M126.6 625.5h0M111.1 606.8h0M125.5 618.3h0M121.2 625.3h0M123.7 615.1h0M128.3 614.6h0M121.0 623.2h0M114.6 618.8h0M122.5 625.1h0M117.6 601.5h0M118.3 587.4h0M118.4 612.1h0M123.7 634.5h0M115.8 610.7h0M126.4 632.9h0M127.0 640.4h0M121.5 602.5h0M118.0 605.9h0M123.5 642.4h0M116.4 595.7h0M111.2 597.1h0M123.7 609.9h0M119.1 607.8h0M121.2 635.9h0M126.7 613.4h0M127.3 633.7h0M117.7 617.9h0M121.6 603.6h0M119.1 619.7h0M113.0 620.7h0M121.5 637.1h0M122.8 603.8h0M118.6 625.0h0M123.5 615.2h0M125.1 599.3h0M118.5 596.8h0M111.4 608.7h0M122.0 607.9h0M115.2 595.8h0M125.2 611.0h0M125.0 630.3h0M123.6 637.9h0M114.9 601.9h0M124.2 621.1h0M123.8 600.3h0M123.5 597.5h0M120.2 604.9h0M121.7 643.3h0M114.4 592.9h0M128.2 619.7h0M121.0 598.6h0M111.3 597.8h0M120.6 623.7h0M112.2 604.0h0M124.6 617.7h0M121.4 591.3h0M122.6 609.7h0M114.7 641.1h0M120.0 606.6h0M126.0 643.6h0M116.0 615.2h0M124.8 641.9h0M124.4 598.8h0M125.7 633.9h0M116.2 593.1h0M123.2 637.9h0M119.9 629.8h0M124.3 612.5h0M118.1 592.2h0M124.3 615.6h0M115.6 629.7h0M118.6 639.2h0M113.8 615.2h0M122.3 637.8h0M119.2 622.8h0M126.2 618.1h0M116.4 632.1h0M128.6 619.4h0M124.0 611.6h0M125.1 600.7h0M128.5 619.9h0M113.0 623.7h0M110.6 606.6h0M120.3 620.0h0M121.1 613.4h0M116.6 601.3h0M121.6 618.5h0M116.7 599.7h0M119.6 640.4h0M112.0 603.9h0M124.4 627.4h0M125.6 629.1h0M123.5 612.2h0M110.5 599.4h0M125.6 627.1h0M127.7 629.1h0M126.4 605.0h0M126.9 622.5h0M122.0 642.6h0M115.4 594.2h0M125.7 632.9h0M125.2 622.5h0M123.9 597.8h0M125.8 621.7h0M115.5 604.9h0M119.1 595.3h0M124.6 628.4h0M124.5 626.1h0M121.3 612.8h0M126.9 610.9h0M123.7 610.3h0M121.5 612.2h0M124.4 627.2h0M121.8 631.0h0M118.4 642.3h0M127.6 616.0h0M117.0 626.4h0M127.6 616.5h0M124.8 608.7h0M124.9 622.7h0M125.1 613.1h0M115.6 635.2h0M123.1 602.3h0M121.4 624.1h0M127.3 635.4h0M121.3 586.9h0M127.8 623.9h0M119.2 628.9h0M126.4 618.1h0M125.5 607.7h0M121.4 622.8h0M118.3 637.9h0M123.1 622.1h0M126.0 607.2h0M119.1 630.5h0M116.6 615.1h0M124.6 605.1h0M123.1 637.2h0M109.4 603.4h0M127.0 621.4h0M117.7 630.1h0M119.9 600.9h0M121.5 640.0h0M120.0 588.3h0M118.1 609.8h0M121.5 598.3h0M121.2 627.0h0M128.1 627.5h0M114.7 628.2h0M126.0 614.1h0M127.7 631.4h0M122.7 633.8h0M120.7 603.8h0M126.5 607.8h0M125.0 637.3h0M120.8 625.2h0M124.5 612.6h0M124.9 630.6h0M112.3 597.1h0M116.6 615.9h0M115.4 616.0h0M126.1 614.1h0M127.7 630.3h0M120.6 609.0h0M122.1 608.7h0M124.4 627.0h0M127.6 625.1h0M120.5 629.8h0M115.0 600.9h0M118.2 595.7h0M111.3 611.9h0M127.3 634.7h0M118.1 622.3h0M123.0 618.0h0M126.2 601.4h0M114.9 638.2h0M126.7 624.6h0M118.1 602.5h0M128.8 639.5h0M114.3 637.8h0M115.4 594.1h0M125.4 616.4h0M117.3 638.7h0M120.1 594.0h0M124.1 627.1h0M120.8 614.6h0M125.0 619.7h0M116.7 627.7h0M126.0 614.5h0M125.1 636.0h0M127.9 614.6h0M119.2 617.1h0M122.7 597.3h0M118.6 602.2h0M120.1 629.2h0M125.3 640.2h0M115.3 599.9h0M127.9 640.0h0M117.0 622.6h0M118.7 587.2h0M117.2 641.0h0M114.6 623.4h0M114.3 600.1h0M120.0 623.6h0M122.9 612.6h0M120.9 613.1h0M116.2 619.9h0M115.6 635.8h0M119.8 614.4h0M124.2 595.2h0M126.2 611.4h0M123.5 594.9h0M125.7 633.5h0M124.0 619.9h0M128.0 619.1h0M124.4 636.4h0M123.2 602.9h0M119.7 608.2h0M124.5 635.1h0M117.5 596.6h0M117.1 638.6h0M119.0 625.6h0M115.7 620.4h0M127.7 625.1h0M128.1 614.1h0M121.1 643.6h0M119.2 633.2h0M126.5 610.3h0M125.6 619.9h0M116.8 593.0h0M115.0 627.4h0M111.9 601.4h0M126.8 619.7h0M117.6 608.3h0M117.4 621.8h0M125.0 603.6h0M118.3 631.8h0M111.9 606.7h0M116.3 609.3h0M115.6 600.2h0M114.2 599.7h0M122.0 605.7h0M122.8 591.4h0M116.1 641.4h0M127.8 615.2h0M120.4 607.3h0M114.7 608.5h0M114.9 624.3h0M111.1 602.0h0M122.3 624.4h0M115.6 622.3h0M123.4 627.2h0M120.0 627.4h0M117.3 625.6h0M124.2 602.6h0M125.8 621.1h0M125.3 602.3h0M121.2 612.2h0M122.6 610.8h0M122.7 632.6h0M119.5 600.4h0M115.7 609.8h0M122.1 599.7h0M114.3 606.8h0M109.6 602.2h0M122.7 611.9h0M123.0 642.7h0M121.7 600.5h0M124.2 634.5h0M125.7 639.6h0M115.9 634.1h0M126.9 640.6h0M118.6 595.1h0M125.8 631.5h0M119.9 606.1h0M128.2 638.5h0M128.3 641.6h0M122.2 621.2h0M121.6 603.3h0M119.2 618.6h0M126.6 617.7h0M126.0 600.7h0M126.0 617.8h0M128.6 627.7h0M125.3 608.7h0M128.0 618.5h0M122.3 633.7h0M127.3 625.0h0M120.3 592.6h0M126.2 632.3h0M122.3 608.7h0M109.9 605.0h0M126.6 620.1h0M120.2 608.4h0M127.9 643.3h0M124.2 622.6h0M126.2 640.3h0M118.8 622.7h0M119.6 609.5h0M118.2 607.2h0M113.2 606.2h0M114.6 595.8h0M119.6 640.2h0M127.2 619.7h0M113.9 626.7h0M126.0 623.5h0M126.3 605.7h0M113.6 612.8h0M123.2 605.0h0M125.0 610.5h0M115.8 643.2h0M115.9 594.6h0M123.5 639.3h0M118.6 622.8h0M124.7 612.6h0M121.2 599.0h0M113.8 611.1h0M112.8 618.9h0M126.0 636.2h0M123.7 633.6h0M126.4 606.8h0M126.0 643.5h0M123.4 591.6h0M118.5 639.1h0M126.4 628.3h0M112.0 601.3h0M116.7 618.2h0M123.0 609.1h0M117.0 642.2h0M116.3 609.7h0M120.8 639.5h0M120.9 607.8h0M124.4 638.5h0M125.8 615.5h0M121.2 629.0h0M122.9 608.7h0M120.9 625.1h0M121.2 617.4h0M118.1 598.8h0M127.3 616.6h0M119.2 633.0h0M126.6 636.2h0M124.8 616.1h0M122.6 612.0h0M124.7 629.9h0M122.3 607.2h0M120.0 589.3h0M123.1 601.9h0M115.9 627.2h0M128.2 627.1h0M122.0 605.0h0M123.8 607.9h0M110.8 598.8h0M122.9 613.9h0M115.2 616.0h0M113.8 604.1h0M125.9 618.1h0M113.6 597.7h0M118.4 619.7h0M117.5 636.8h0M117.2 623.0h0M122.1 625.0h0M112.6 591.8h0M124.4 641.0h0M122.4 594.9h0M125.5 603.0h0M115.0 634.6h0M124.7 642.6h0M128.7 640.3h0M118.5 639.7h0M119.4 591.1h0M127.7 623.9h0M115.2 612.0h0M124.5 620.4h0M118.2 594.6h0M118.5 617.0h0M118.7 607.2h0M116.6 597.8h0M118.6 637.5h0M127.6 614.2h0M120.0 625.8h0M123.7 594.9h0M122.5 633.1h0M116.8 609.5h0M111.5 605.9h0M128.3 643.6h0M126.9 629.4h0M125.7 631.5h0M123.0 606.2h0M128.1 624.9h0M127.5 638.3h0M125.4 632.4h0M119.2 640.7h0M128.2 631.5h0M125.5 599.4h0M126.9 625.6h0M125.5 605.6h0M125.5 631.8h0M118.4 586.9h0M125.0 610.2h0M117.7 605.4h0M120.8 637.7h0M117.7 632.8h0M126.0 615.7h0M127.3 637.7h0M117.5 641.4h0M121.9 622.5h0M122.3 618.2h0M120.4 619.3h0M114.1 630.1h0M122.5 602.0h0M123.5 595.9h0M128.1 641.6h0M114.7 640.5h0M114.9 611.3h0M124.3 604.2h0M123.8 613.2h0M122.1 629.5h0M114.3 622.4h0M125.3 618.7h0M123.8 625.2h0M122.1 629.6h0M126.7 638.0h0M122.8 621.4h0M125.2 601.8h0M128.3 632.4h0M121.2 594.0h0M119.7 632.7h0M115.2 618.9h0M124.9 617.0h0M118.7 610.5h0M128.7 632.5h0M115.1 643.0h0M122.3 626.9h0M118.9 611.4h0M122.8 597.4h0M123.1 627.6h0M126.0 627.7h0M113.8 606.5h0M121.3 643.3h0M117.7 591.9h0M119.9 615.4h0M120.3 607.9h0M125.3 631.4h0M121.1 637.2h0M121.4 597.9h0M126.9 608.1h0M120.5 593.3h0M122.8 611.4h0M122.5 613.3h0M126.9 620.6h0M128.3 632.4h0M128.3 627.0h0M126.5 639.0h0M114.3 608.9h0M125.3 632.9h0M112.6 610.8h0M128.3 617.6h0M125.7 635.0h0M128.4 630.4h0M122.5 620.6h0M122.3 635.1h0M127.6 611.5h0M128.4 623.8h0M123.8 601.8h0M126.5 639.2h0M124.6 616.8h0M125.2 604.1h0M123.0 643.2h0M123.6 629.5h0M120.6 626.2h0M114.0 630.5h0M115.4 634.1h0M124.8 624.8h0M112.1 594.3h0M121.7 618.9h0M113.0 597.2h0M118.0 636.3h0M121.9 634.3h0M122.9 591.4h0M118.2 596.0h0M117.4 592.8h0M119.7 590.1h0M128.0 635.6h0M127.7 616.3h0M117.8 628.3h0M117.6 604.4h0M121.9 606.9h0M121.7 615.7h0M127.7 628.8h0M115.9 638.2h0M120.3 640.3h0M115.0 609.5h0M122.9 594.0h0M126.2 610.3h0M125.7 632.6h0M118.9 592.7h0M126.7 641.6h0M119.1 625.2h0M123.5 622.1h0M122.1 632.2h0M124.4 599.5h0M121.9 630.3h0M112.9 598.4h0M116.7 610.3h0M112.0 613.8h0M122.2 595.3h0M128.0 630.3h0M124.0 603.4h0M126.3 620.0h0M123.2 601.7h0M115.2 616.2h0M116.9 613.7h0M121.1 626.3h0M124.6 628.1h0M119.8 589.0h0M124.8 631.7h0M119.9 594.0h0M119.3 627.9h0M123.2 598.8h0M114.7 624.3h0M124.6 603.9h0M120.8 591.2h0M126.3 612.7h0M119.2 630.8h0M122.9 630.5h0M121.4 602.1h0M128.4 638.6h0M117.9 621.8h0M124.1 611.3h0M119.2 634.2h0M117.1 605.5h0M126.6 638.3h0M127.9 620.9h0M125.0 605.6h0M125.2 635.9h0M115.6 607.9h0M123.8 633.0h0M115.3 633.4h0M119.6 612.3h0M112.8 605.7h0M110.4 604.9h0M124.6 599.1h0M124.8 641.1h0M121.3 637.7h0M126.8 628.4h0M126.2 619.1h0M122.0 598.0h0M125.1 631.6h0M118.6 624.6h0M127.9 643.8h0M115.8 639.4h0M124.8 610.5h0M118.9 613.1h0M123.0 629.3h0M113.6 615.9h0M120.7 638.3h0M122.9 627.1h0M125.5 639.5h0M127.7 611.6h0M121.4 643.7h0M124.0 600.2h0M114.6 595.4h0M114.8 615.2h0M115.6 610.6h0M122.5 608.7h0M126.0 619.1h0M125.7 628.1h0M121.3 639.2h0M116.6 596.5h0M126.7 632.3h0M115.8 637.7h0M118.1 605.2h0M120.8 631.4h0M116.0 608.4h0M127.0 617.2h0M115.2 633.5h0M127.0 640.7h0M127.3 611.1h0M123.7 635.6h0M122.8 622.4h0M122.1 642.0h0M116.4 600.6h0M128.3 643.5h0M112.0 596.4h0M115.6 628.6h0M119.2 625.3h0M125.9 638.9h0M116.2 625.9h0M124.8 631.4h0M127.9 639.7h0M114.9 607.8h0M126.8 631.8h0M125.2 643.3h0M114.9 629.8h0M117.1 639.9h0M117.4 628.0h0M123.3 623.5h0M118.5 627.7h0M121.7 602.1h0M119.4 628.8h0M121.4 607.8h0M118.6 605.4h0M127.4 613.4h0M128.0 639.4h0M122.4 618.0h0M118.0 614.5h0M119.6 604.1h0M128.6 625.2h0M117.1 642.0h0M116.7 626.3h0M125.3 642.7h0M123.6 601.6h0M128.7 643.4h0M113.6 594.2h0M124.7 595.3h0M120.1 618.4h0M119.5 586.9h0M120.7 596.5h0M110.1 605.2h0M121.6 610.5h0M118.8 640.1h0M127.0 626.8h0M123.0 615.5h0M116.5 597.5h0M122.4 643.4h0M113.8 624.8h0M118.5 632.7h0M127.5 633.1h0M115.9 627.2h0M123.0 592.7h0M127.7 618.7h0M119.0 613.9h0M124.3 615.9h0M127.3 615.5h0M123.4 598.0h0M121.4 626.1h0M109.6 606.8h0M128.0 616.3h0M128.1 632.5h0M123.4 614.2h0M117.4 610.3h0M126.6 610.7h0M124.2 607.7h0M126.8 611.4h0M120.5 600.8h0M116.4 607.9h0M116.0 630.0h0M122.3 622.1h0M120.9 603.0h0M125.8 638.6h0M120.4 619.2h0M120.7 615.5h0M115.8 638.2h0M125.9 600.1h0M118.2 643.0h0M124.3 634.7h0M116.3 632.2h0M117.8 598.3h0M118.8 614.5h0M126.3 606.7h0M120.9 618.6h0M119.3 604.9h0M125.6 605.6h0M122.0 611.8h0M117.7 634.1h0M122.3 625.1h0M118.0 597.4h0M121.6 626.1h0M114.8 617.8h0M118.3 621.6h0M120.0 629.5h0M128.2 628.1h0M125.3 616.1h0M121.1 593.0h0M117.4 632.0h0M127.3 632.9h0M123.6 636.6h0M121.8 609.5h0M115.6 633.0h0M116.1 619.4h0M122.2 633.1h0M122.1 641.1h0M116.3 594.6h0M120.0 617.1h0M116.0 613.7h0M121.5 626.0h0M119.6 628.4h0M125.5 636.3h0M110.7 598.9h0M124.3 643.6h0M124.1 634.0h0M117.8 619.2h0M119.8 636.0h0M121.3 634.7h0M121.8 624.0h0M114.3 631.7h0M119.5 632.7h0M123.2 607.3h0M116.2 611.2h0M121.6 634.1h0M123.8 602.1h0M117.4 630.1h0M120.4 627.1h0M114.6 627.4h0M112.9 590.7h0M112.4 615.9h0M125.2 610.1h0M114.1 614.7h0M118.5 599.2h0M121.6 625.7h0M116.4 610.6h0M117.9 634.5h0M125.4 636.8h0M124.5 613.5h0M125.6 624.7h0M112.7 605.5h0M115.1 635.1h0M113.9 608.8h0M117.3 608.0h0M126.0 607.7h0M113.6 587.4h0M122.9 619.6h0M124.9 626.2h0M119.4 601.4h0M125.7 631.1h0M112.5 605.4h0M128.1 634.4h0M113.7 621.9h0M124.7 620.6h0M126.3 624.4h0M128.2 622.0h0M114.9 636.7h0M121.6 632.3h0M119.2 621.0h0M118.9 608.3h0M124.8 596.1h0M124.2 640.1h0M109.7 605.0h0M124.9 599.2h0M126.1 633.7h0M125.4 642.9h0M125.4 639.2h0M120.0 601.9h0M122.6 624.9h0M124.3 630.3h0M117.9 633.1h0M122.0 590.8h0M121.9 636.5h0M123.0 631.3h0M122.7 593.4h0M112.8 604.8h0M126.0 622.9h0M113.6 600.9h0M118.6 630.4h0M114.7 615.8h0M126.9 639.5h0M116.8 643.3h0M125.7 633.4h0M118.0 609.8h0M124.7 628.2h0M126.6 640.6h0M115.9 592.2h0M115.6 610.2h0M127.6 620.2h0M117.1 600.5h0M119.9 598.0h0M124.3 611.5h0M119.3 588.5h0M122.0 625.8h0M127.1 633.4h0M121.7 599.0h0M121.2 602.1h0M113.2 596.7h0M110.4 605.3h0M123.1 603.4h0M125.0 643.0h0M112.8 613.3h0M120.6 628.1h0M114.7 605.8h0M113.5 615.8h0M126.4 640.2h0M123.7 626.2h0M115.1 604.6h0M117.2 637.9h0M125.4 603.9h0M124.5 618.5h0M122.7 599.8h0M125.4 606.3h0M117.1 642.8h0M114.0 592.8h0M118.0 639.9h0M116.5 641.3h0M128.1 637.5h0M119.5 640.4h0M116.8 629.4h0M127.4 608.2h0M118.0 633.0h0M127.7 641.3h0M113.9 588.4h0M122.0 619.7h0M116.8 640.7h0M125.6 628.3h0M122.6 614.5h0M126.3 610.3h0M118.9 643.2h0M110.9 610.2h0M114.6 628.1h0M124.8 642.5h0M117.2 618.4h0M116.4 610.7h0M115.9 599.8h0M126.2 640.3h0M117.9 604.7h0M126.6 634.3h0M118.0 608.4h0M128.5 627.3h0M124.9 624.5h0M126.6 639.9h0M123.3 593.0h0M115.4 619.1h0M117.4 633.0h0M121.1 622.9h0M119.8 595.9h0M113.6 619.9h0M124.4 595.0h0M117.3 638.5h0M112.3 593.6h0M124.2 638.2h0M128.3 616.4h0M116.2 601.7h0M126.5 606.8h0M117.8 616.4h0M122.9 611.0h0M119.6 604.9h0M126.5 623.8h0M120.3 610.8h0M128.4 629.5h0M115.7 637.4h0M124.8 642.6h0M122.3 602.3h0M121.8 615.5h0M126.6 613.1h0M124.6 609.6h0M121.8 604.4h0M111.8 609.3h0M116.6 632.2h0M127.2 630.2h0M124.5 619.1h0M122.5 607.5h0M117.8 632.9h0M126.4 606.4h0M119.7 607.0h0M126.5 632.3h0M124.9 616.6h0M122.5 639.8h0M126.8 629.2h0M124.4 625.3h0M119.2 641.5h0M126.7 627.3h0M125.5 618.3h0M114.7 620.8h0M128.3 641.3h0M110.9 606.0h0M122.5 627.3h0M117.9 602.5h0M117.9 621.6h0M125.0 614.2h0M115.3 638.5h0M120.4 633.7h0M116.9 640.6h0M115.9 619.6h0M122.9 623.7h0M122.6 606.1h0M128.2 639.5h0M120.5 610.8h0M126.0 637.0h0M120.6 607.1h0M114.8 613.5h0M116.6 626.5h0M124.6 596.7h0M122.1 607.4h0M120.9 629.8h0M119.8 605.0h0M121.3 628.7h0M122.5 643.8h0M127.6 611.2h0M115.4 642.9h0M116.8 641.5h0M121.0 617.3h0M120.8 632.7h0M124.3 608.6h0M127.1 639.1h0M122.7 594.2h0M125.3 624.9h0M126.8 633.1h0M125.3 615.8h0M124.1 632.3h0M128.5 630.8h0M123.7 599.1h0M115.4 643.1h0M124.1 605.5h0M114.8 593.1h0M125.2 621.8h0M119.9 608.8h0M121.3 639.9h0M113.8 615.4h0M127.0 619.4h0M120.3 631.4h0M116.2 597.9h0M113.7 600.1h0M116.9 606.8h0M123.5 614.5h0M118.6 618.4h0M121.2 621.9h0M111.9 606.0h0M116.2 640.1h0M120.1 624.9h0M125.8 629.5h0M119.3 595.8h0M120.5 616.6h0M128.5 630.5h0M128.2 629.9h0M120.0 611.4h0M119.3 603.8h0M118.3 590.1h0M119.2 608.5h0M118.5 632.0h0M119.3 619.6h0M126.6 613.6h0M118.0 592.2h0M127.2 627.8h0M111.8 599.9h0M119.0 631.4h0M117.0 639.5h0M115.6 627.4h0M118.9 617.2h0M120.2 611.8h0M125.3 626.0h0M128.2 636.0h0M124.6 630.1h0M110.8 598.5h0M126.7 618.5h0M128.5 622.9h0M125.1 613.0h0M118.6 606.6h0M122.3 605.5h0M122.3 595.3h0M124.5 625.3h0M127.1 613.1h0M125.4 620.8h0M127.3 636.0h0M117.9 632.8h0M127.9 621.7h0M112.1 605.2h0M123.0 599.2h0M118.3 624.0h0M113.8 630.6h0M126.1 630.9h0M122.7 621.9h0M122.0 616.2h0M122.6 593.5h0M125.8 618.8h0M122.9 614.5h0M126.9 623.8h0M123.8 634.5h0M116.8 606.9h0M126.3 625.6h0M119.5 636.9h0M118.5 601.0h0M126.8 642.1h0M127.9 630.1h0M127.8 623.3h0M126.1 637.7h0M121.6 623.9h0M128.2 633.7h0M127.7 627.4h0M125.2 632.6h0M122.0 596.3h0M119.3 622.4h0M117.8 641.3h0M119.1 613.7h0M124.7 611.0h0M121.7 594.4h0M115.6 627.7h0M114.5 611.0h0M116.8 626.9h0M121.7 610.8h0M115.4 638.5h0M113.4 596.6h0M122.3 619.4h0M124.9 625.1h0M120.8 624.0h0M116.0 622.9h0M124.2 636.0h0M116.0 615.6h0M128.3 636.5h0M121.0 611.2h0M120.1 636.6h0M119.1 633.3h0M113.1 622.6h0M127.6 608.6h0M117.0 615.2h0M126.4 619.5h0M125.6 607.9h0M119.7 597.6h0M118.4 635.6h0M125.4 613.5h0M112.9 626.6h0M125.2 630.1h0M128.2 640.9h0M124.8 612.3h0M124.6 623.8h0M119.4 612.7h0M127.3 630.0h0M115.6 591.6h0M123.2 611.9h0M126.1 608.7h0M118.8 596.1h0M126.9 611.7h0M127.0 621.1h0M126.2 618.4h0M124.0 602.0h0M128.1 634.8h0M127.1 637.7h0M119.1 595.8h0M125.7 615.3h0M123.1 619.8h0M114.5 629.5h0M113.7 597.9h0M123.4 601.5h0M118.5 624.8h0M127.0 622.0h0M125.1 637.1h0M125.7 626.3h0M119.5 625.4h0M114.9 616.5h0M125.4 631.5h0M122.5 605.6h0M124.6 604.2h0M116.3 642.4h0M126.4 625.8h0M128.6 627.8h0M126.6 602.3h0M125.7 639.1h0M128.4 643.4h0M118.0 625.4h0M110.9 605.1h0M124.7 636.8h0M124.8 634.8h0M114.5 633.4h0M122.1 599.4h0M124.3 615.8h0M114.1 615.8h0M126.2 627.6h0M122.3 592.9h0M121.2 641.4h0M126.3 632.5h0M124.0 596.2h0M123.8 636.8h0M113.8 626.3h0M128.1 623.8h0M112.1 599.9h0M119.6 590.7h0M116.2 632.6h0M115.3 588.4h0M112.5 602.1h0M125.8 626.6h0M123.1 625.5h0M125.5 637.9h0M123.6 631.1h0M120.8 623.8h0M120.2 620.5h0M123.2 624.5h0M121.2 616.9h0M126.6 640.3h0M112.7 594.4h0M119.8 641.1h0M116.9 587.3h0M122.2 609.4h0M128.0 630.9h0M122.8 620.9h0M117.3 616.4h0M127.8 621.5h0M127.6 611.9h0M121.6 630.9h0M120.8 625.7h0M120.0 642.0h0M125.1 641.5h0M126.7 637.8h0M114.8 633.9h0M121.4 605.6h0M119.1 618.6h0M127.2 622.0h0M111.2 611.1h0M120.8 599.2h0M121.4 639.5h0M123.0 619.6h0M124.6 614.4h0M127.4 609.5h0M118.1 643.6h0M113.8 631.7h0M123.4 619.2h0M128.0 619.5h0M128.3 632.4h0M114.5 627.1h0M127.0 611.1h0M123.0 626.2h0M119.7 616.2h0M122.3 638.9h0M120.0 627.5h0M120.8 628.5h0M122.3 638.2h0M118.7 628.2h0M120.4 612.5h0M112.0 614.0h0M123.7 622.0h0M127.5 606.3h0M113.1 623.6h0M125.2 611.8h0M118.6 607.5h0M122.5 622.2h0M111.0 599.0h0M126.4 637.2h0M122.6 630.1h0M124.6 604.6h0M117.1 611.6h0M123.2 642.8h0M125.8 609.1h0M127.8 616.7h0M122.1 614.2h0M125.4 630.0h0M126.7 640.3h0M126.3 627.7h0M118.6 615.7h0M121.5 643.6h0M115.8 610.3h0M124.5 618.3h0M116.2 614.9h0M115.7 619.2h0M119.5 604.8h0M123.7 607.7h0M125.6 617.9h0M126.7 620.5h0M125.6 604.0h0M120.2 627.8h0M122.5 595.3h0M123.8 622.8h0M116.5 634.4h0M112.2 613.6h0M120.2 630.7h0M122.2 598.8h0M126.2 631.7h0M114.5 614.2h0M123.1 629.0h0M113.5 620.5h0M127.5 627.6h0M128.4 636.4h0M121.1 638.8h0M113.6 591.3h0M111.5 609.2h0M126.3 604.7h0M121.7 629.7h0M125.7 611.2h0M125.7 608.0h0M122.5 611.1h0M117.0 642.2h0M127.7 639.8h0M123.9 597.2h0M122.0 591.5h0M126.6 627.8h0M127.7 637.1h0M125.6 629.2h0M128.4 632.3h0M125.2 640.2h0M119.6 621.6h0M118.9 610.9h0M125.3 629.9h0M125.7 643.7h0M119.7 620.5h0M124.4 626.2h0M117.8 638.9h0M122.5 632.6h0M124.4 607.4h0M120.4 632.5h0M119.0 594.4h0M119.5 625.5h0M113.6 638.1h0M102.8 621.4h0M114.0 632.8h0M105.1 623.2h0M110.8 625.2h0M105.1 618.0h0M105.1 624.4h0M102.9 622.3h0M111.4 627.3h0M101.9 623.4h0M104.4 616.6h0M107.7 624.1h0M98.8 617.2h0M104.8 621.3h0M100.6 621.9h0M109.4 621.5h0M103.1 616.7h0M110.9 634.2h0M110.8 626.8h0M111.4 625.8h0M112.5 628.3h0M108.3 619.5h0M106.2 620.1h0M109.9 631.4h0M101.8 619.9h0M104.2 625.3h0M111.9 626.5h0M105.6 623.5h0M104.9 622.0h0M103.8 626.0h0M107.6 619.5h0M108.1 621.9h0M112.8 629.4h0M109.4 632.1h0M111.7 628.1h0M110.4 623.3h0M105.7 627.2h0M114.0 638.2h0M99.8 610.9h0M106.3 625.2h0M103.6 626.3h0M99.4 620.4h0M103.0 617.6h0M111.3 637.6h0M113.3 631.6h0M107.5 622.2h0M110.2 628.3h0M111.4 639.6h0M110.9 623.1h0M110.5 624.1h0M105.7 626.1h0M100.4 614.6h0M111.2 633.3h0M112.7 632.3h0M107.0 620.2h0M110.6 632.7h0M107.1 625.7h0M114.1 643.3h0M106.7 623.4h0M101.6 620.0h0M102.7 624.1h0M114.9 641.3h0M111.2 628.7h0M102.5 623.9h0M103.5 616.7h0M105.4 625.3h0M103.1 625.4h0M109.6 621.7h0M108.2 633.7h0M111.8 628.0h0M104.0 625.0h0M106.7 629.8h0M114.8 643.4h0M102.2 620.7h0M99.0 618.2h0M111.0 622.7h0M108.9 623.1h0M111.6 633.1h0M115.4 640.8h0M114.7 643.6h0M101.2 618.6h0M100.3 618.4h0M113.7 638.0h0M98.7 614.8h0M107.7 622.8h0M112.3 635.8h0M106.0 617.3h0M110.4 622.8h0M104.4 619.4h0M111.7 624.9h0M101.9 615.7h0M113.0 641.2h0M103.4 618.7h0M107.5 628.8h0M103.1 614.0h0M107.9 619.5h0M108.3 620.7h0M108.6 631.3h0M112.8 628.8h0M110.8 637.0h0M105.5 628.5h0M113.3 629.3h0M98.7 615.4h0M110.1 630.6h0M101.4 612.0h0M104.1 623.7h0M110.4 629.4h0M103.2 616.9h0M110.4 622.7h0M108.6 621.7h0M101.6 623.5h0M105.6 625.4h0M112.4 629.5h0M112.7 633.1h0M99.7 616.6h0M103.5 617.7h0M109.0 628.5h0M112.6 641.5h0M100.8 618.0h0M115.1 642.9h0M111.1 633.2h0M104.1 618.2h0M102.9 620.4h0M107.3 628.8h0M107.3 627.6h0M101.1 617.6h0M105.3 629.6h0M111.5 625.5h0M107.7 619.3h0M104.5 618.0h0M108.4 623.8h0M98.7 617.7h0M103.0 624.3h0M111.2 633.1h0M107.4 630.0h0M106.5 626.9h0M107.8 620.6h0M105.3 624.7h0M109.8 634.1h0M105.9 619.1h0M109.5 636.0h0M99.3 619.7h0M111.8 623.8h0M102.9 623.6h0M107.4 619.3h0M113.7 632.6h0M105.3 617.7h0M113.5 632.7h0M104.7 627.4h0M115.4 643.6h0M114.5 637.0h0M100.7 619.0h0M110.3 625.2h0M100.0 618.6h0M102.1 618.4h0M106.5 630.1h0M109.9 625.4h0M107.4 622.0h0M111.3 636.2h0M111.8 638.1h0M111.1 621.8h0M109.4 620.4h0M110.4 625.9h0M108.1 620.0h0M112.3 637.7h0M110.3 627.3h0M110.6 632.1h0M111.4 623.3h0M105.5 623.6h0M111.6 632.5h0M107.1 622.3h0M109.1 621.9h0M100.5 616.8h0M108.6 623.6h0M101.6 617.5h0M104.8 625.6h0M104.8 623.9h0M110.9 625.8h0M101.8 615.6h0M108.7 622.0h0M89.9 563.4h0M91.7 567.3h0M89.9 580.0h0M84.8 583.0h0M89.1 583.5h0M93.9 588.1h0M90.6 591.9h0M91.6 592.2h0M95.2 592.7h0M85.0 598.6h0M94.0 604.6h0M98.3 606.3h0M105.2 607.5h0M108.7 595.6h0M106.4 602.9h0M114.5 581.3h0M117.1 579.2h0M97.4 611.3h0M100.0 611.5h0M88.7 637.1h0M98.0 638.0h0M105.2 638.7h0M102.5 629.5h0M94.3 615.9h0" stroke="#a80d30" stroke-width="1.6" stroke-linecap="round" fill="none"/>
<path d="M150.9 631.5h0M137.4 610.0h0M145.6 642.6h0M134.5 616.3h0M144.5 605.5h0M141.8 616.0h0M137.8 626.8h0M137.2 631.7h0M136.6 635.4h0M140.3 625.0h0M146.7 600.0h0M142.4 597.4h0M156.5 620.9h0M143.5 637.9h0M147.6 608.1h0M151.3 630.2h0M140.8 629.2h0M151.2 589.0h0M149.8 621.9h0M137.2 619.8h0M146.5 615.1h0M135.8 627.7h0M144.9 622.7h0M150.0 618.5h0M153.9 623.4h0M145.2 612.5h0M149.4 597.0h0M140.1 618.1h0M138.3 626.1h0M140.9 623.9h0M158.3 624.0h0M148.6 637.7h0M151.6 611.2h0M154.7 606.5h0M145.6 643.5h0M143.4 589.5h0M141.6 619.5h0M137.2 602.7h0M134.6 613.8h0M146.3 617.2h0M156.2 623.7h0M138.9 622.0h0M135.9 637.0h0M141.0 636.7h0M139.5 606.5h0M145.4 604.2h0M140.7 633.7h0M143.4 642.0h0M136.1 623.2h0M154.2 604.3h0M136.2 621.4h0M138.9 627.7h0M141.1 642.0h0M141.8 613.5h0M135.1 637.4h0M159.8 620.9h0M139.2 636.8h0M140.0 630.5h0M144.0 630.7h0M140.5 611.7h0M143.7 618.3h0M146.1 623.6h0M152.0 605.5h0M139.4 617.6h0M135.0 631.5h0M134.9 634.7h0M143.1 589.6h0M147.7 596.8h0M145.5 631.7h0M140.3 636.8h0M139.7 610.5h0M141.2 629.3h0M151.0 599.3h0M151.2 590.9h0M141.6 595.9h0M149.6 611.3h0M144.1 590.5h0M151.4 612.7h0M150.3 597.3h0M145.2 634.9h0M145.3 640.4h0M142.4 606.6h0M149.7 633.8h0M137.8 628.4h0M136.3 633.0h0M144.6 583.2h0M140.9 643.6h0M140.7 589.1h0M140.3 606.6h0M145.5 590.8h0M142.5 605.7h0M139.9 601.1h0M155.1 608.6h0M135.4 624.2h0M142.1 585.3h0M140.6 641.9h0M150.7 635.6h0M140.7 609.8h0M155.7 625.3h0M136.4 617.4h0M140.5 631.9h0M153.4 615.0h0M158.8 617.7h0M149.6 612.0h0M135.2 630.1h0M141.0 622.9h0M143.7 632.5h0M144.2 601.7h0M146.1 633.2h0M136.5 627.2h0M153.1 630.6h0M136.4 642.5h0M136.2 615.3h0M152.1 618.6h0M136.7 633.5h0M145.7 592.9h0M139.0 638.5h0M142.0 609.1h0M147.6 610.2h0M134.7 611.8h0M135.6 637.9h0M148.8 630.8h0M147.5 581.0h0M147.8 634.6h0M142.6 640.8h0M142.7 636.9h0M137.4 627.6h0M137.4 643.8h0M151.3 614.7h0M150.8 596.8h0M139.7 611.6h0M142.7 593.2h0M136.0 612.8h0M147.9 637.6h0M139.3 604.5h0M139.5 600.5h0M148.1 602.0h0M147.0 619.3h0M153.9 620.3h0M135.6 613.5h0M140.4 620.1h0M134.4 628.1h0M153.1 609.8h0M137.4 618.6h0M139.8 620.7h0M140.2 641.9h0M139.4 616.8h0M137.3 611.5h0M142.7 622.9h0M156.2 623.3h0M136.7 637.4h0M141.8 590.2h0M148.8 613.5h0M148.8 604.8h0M151.4 619.6h0M152.9 633.0h0M142.3 613.6h0M147.1 608.5h0M143.0 610.8h0M137.4 617.5h0M136.1 619.1h0M143.6 621.8h0M146.1 604.2h0M151.0 636.0h0M152.0 605.5h0M143.7 630.7h0M136.0 617.9h0M140.4 643.7h0M142.1 603.3h0M153.9 602.9h0M136.8 635.5h0M140.7 636.2h0M149.7 603.0h0M134.5 612.0h0M138.5 624.2h0M142.7 641.9h0M144.8 628.0h0M136.6 635.5h0M139.7 600.1h0M141.0 630.6h0M144.6 626.9h0M134.7 632.1h0M136.4 618.1h0M144.4 590.5h0M138.3 629.1h0M139.5 615.2h0M136.0 621.9h0M152.8 620.5h0M146.6 607.0h0M145.0 612.8h0M154.0 624.1h0M134.7 635.5h0M153.4 607.4h0M146.6 639.8h0M137.2 623.9h0M144.1 639.9h0M140.4 608.1h0M142.9 617.0h0M149.0 613.9h0M140.4 610.3h0M144.5 629.9h0M153.3 617.8h0M139.6 628.3h0M152.1 621.8h0M150.7 601.0h0M151.5 620.3h0M152.3 609.8h0M145.0 605.4h0M154.8 617.2h0M156.3 617.6h0M142.2 635.0h0M147.2 615.0h0M155.6 630.1h0M138.6 642.9h0M154.8 625.6h0M139.3 618.9h0M136.3 622.0h0M136.1 627.8h0M134.8 626.6h0M137.1 620.3h0M144.5 618.0h0M136.0 643.3h0M134.7 638.1h0M158.1 617.7h0M149.1 592.0h0M139.3 604.5h0M156.6 622.7h0M145.7 621.1h0M137.3 622.4h0M142.4 624.2h0M139.4 615.7h0M147.9 632.1h0M145.0 619.2h0M135.7 611.0h0M143.7 608.7h0M136.2 633.3h0M140.8 637.4h0M144.4 626.1h0M149.9 619.4h0M138.8 606.4h0M137.2 639.3h0M135.0 624.1h0M139.5 621.7h0M140.5 594.1h0M140.6 590.2h0M135.4 628.9h0M137.9 600.4h0M142.2 634.6h0M147.9 634.3h0M153.7 614.6h0M137.0 641.3h0M151.3 593.6h0M153.1 625.5h0M135.2 616.7h0M137.4 624.6h0M136.5 606.7h0M142.2 597.4h0M155.9 618.0h0M139.0 603.5h0M139.6 621.1h0M143.7 612.9h0M140.4 635.6h0M134.6 630.7h0M138.3 600.8h0M139.4 613.6h0M137.2 635.6h0M145.3 598.7h0M151.2 608.4h0M140.7 634.3h0M147.0 616.8h0M135.2 622.1h0M147.0 585.7h0M159.4 618.3h0M140.2 603.5h0M149.4 595.5h0M146.0 614.5h0M139.7 618.9h0M137.3 616.6h0M143.6 640.6h0M137.8 610.1h0M140.4 602.4h0M152.2 625.9h0M143.8 623.6h0M146.5 585.4h0M152.1 607.2h0M148.7 611.3h0M136.7 624.8h0M140.2 610.0h0M138.9 611.6h0M150.9 617.9h0M149.1 635.2h0M136.2 636.7h0M153.1 617.8h0M141.7 614.7h0M137.5 624.5h0M144.2 626.8h0M148.8 619.9h0M145.4 606.1h0M135.0 636.2h0M145.1 617.1h0M142.2 630.5h0M137.4 616.6h0M139.4 628.2h0M135.7 625.4h0M153.0 624.4h0M148.9 624.7h0M138.8 641.3h0M140.3 627.6h0M137.7 609.0h0M138.4 613.4h0M136.0 630.7h0M138.4 601.1h0M136.7 605.5h0M150.6 612.2h0M136.4 609.7h0M138.9 635.5h0M149.6 623.8h0M137.2 605.6h0M136.9 631.4h0M144.0 642.3h0M146.1 606.2h0M140.3 598.1h0M139.3 629.8h0M144.5 613.2h0M139.1 595.6h0M155.9 623.8h0M140.2 640.2h0M156.2 616.5h0M137.3 620.4h0M155.9 630.6h0M148.7 636.7h0M140.3 616.3h0M142.2 588.6h0M145.0 629.0h0M142.9 594.8h0M147.3 585.5h0M143.5 607.9h0M141.8 589.9h0M140.5 610.7h0M137.7 638.6h0M139.4 609.4h0M150.4 598.2h0M135.5 611.7h0M153.3 606.8h0M136.2 628.5h0M136.3 629.5h0M142.4 600.4h0M142.4 600.3h0M150.4 609.7h0M147.6 624.4h0M150.1 612.0h0M137.4 608.5h0M134.8 631.5h0M138.2 622.7h0M156.0 610.5h0M144.6 639.0h0M155.8 627.4h0M151.6 624.0h0M143.0 609.0h0M145.4 597.8h0M137.4 633.0h0M138.4 624.5h0M138.6 634.4h0M153.5 616.6h0M153.0 624.2h0M136.9 607.3h0M143.3 602.0h0M139.7 637.0h0M134.7 618.2h0M138.5 610.3h0M145.0 629.7h0M154.7 634.2h0M146.8 625.3h0M147.8 633.4h0M136.5 609.5h0M138.0 643.6h0M137.8 634.1h0M136.5 607.4h0M143.9 626.5h0M145.5 614.0h0M139.3 617.5h0M154.5 607.6h0M143.8 612.8h0M141.7 624.0h0M138.4 642.1h0M136.6 635.2h0M148.6 588.9h0M136.7 609.6h0M135.5 617.7h0M140.3 600.5h0M142.2 594.3h0M149.6 600.0h0M136.5 621.3h0M135.7 614.4h0M140.8 629.6h0M140.4 635.1h0M140.6 630.9h0M156.3 611.5h0M134.9 615.2h0M134.8 624.0h0M148.1 634.2h0M144.1 618.1h0M135.7 623.8h0M139.1 606.3h0M151.1 606.2h0M142.9 600.4h0M146.5 586.7h0M139.6 616.6h0M142.2 608.2h0M149.7 632.6h0M148.7 597.2h0M145.9 591.1h0M139.0 603.6h0M149.6 618.5h0M136.2 616.4h0M134.4 641.5h0M139.3 594.1h0M134.8 633.8h0M147.9 616.9h0M148.9 631.2h0M154.4 607.7h0M138.2 614.2h0M149.3 601.1h0M151.6 594.6h0M150.7 604.9h0M138.3 630.4h0M155.1 619.4h0M143.4 618.3h0M137.8 643.8h0M147.0 597.8h0M145.7 588.6h0M136.8 624.8h0M143.5 631.3h0M145.5 639.5h0M138.3 610.6h0M136.1 633.6h0M147.7 616.3h0M156.1 613.2h0M139.2 636.5h0M134.8 612.8h0M149.9 613.6h0M137.1 640.4h0M141.3 618.3h0M139.9 642.2h0M150.9 605.2h0M142.9 624.9h0M147.2 629.1h0M137.6 623.1h0M156.3 627.4h0M150.8 594.8h0M142.9 638.7h0M139.2 635.3h0M145.7 621.7h0M139.6 611.0h0M147.3 625.9h0M138.9 624.8h0M145.3 609.4h0M139.8 600.0h0M147.0 601.7h0M143.2 612.4h0M146.3 609.3h0M142.5 640.4h0M149.2 613.9h0M135.0 621.5h0M143.8 618.7h0M142.1 617.5h0M144.4 639.2h0M137.7 632.6h0M152.3 596.6h0M134.6 640.9h0M141.0 639.3h0M144.3 593.5h0M148.1 610.8h0M145.0 634.4h0M155.5 611.8h0M134.3 643.0h0M146.2 581.1h0M138.5 597.5h0M151.0 608.6h0M141.6 602.0h0M140.1 618.9h0M140.3 617.8h0M140.3 631.3h0M138.3 638.3h0M140.5 642.9h0M137.9 613.3h0M139.7 639.3h0M137.4 633.4h0M138.9 630.5h0M136.6 635.0h0M140.1 611.4h0M135.2 630.6h0M137.8 623.5h0M139.4 643.1h0M140.6 620.5h0M140.5 616.0h0M140.3 638.8h0M138.7 620.2h0M136.7 637.8h0M139.4 612.2h0M140.1 612.4h0M136.8 627.8h0M141.2 640.2h0M137.7 630.3h0M136.6 640.7h0M138.9 624.5h0M141.1 618.1h0M138.1 610.0h0M135.4 631.8h0M137.3 615.8h0M136.4 639.7h0M139.3 619.4h0M139.8 614.1h0M134.3 643.6h0M136.3 623.4h0M141.4 636.1h0M136.1 631.3h0M139.1 640.8h0M140.2 611.7h0M140.9 634.5h0M136.9 612.2h0M141.1 616.2h0M139.0 628.3h0M139.5 628.1h0M137.7 613.8h0M139.7 622.0h0M136.9 626.3h0M139.6 625.0h0M140.5 630.9h0M137.4 635.8h0M137.1 623.4h0M135.2 637.5h0M139.5 616.5h0M137.9 617.5h0M136.9 641.8h0M135.5 634.6h0M141.1 635.7h0M139.1 634.8h0M141.8 629.7h0M141.2 621.7h0M142.0 641.2h0M142.8 636.4h0M137.4 617.9h0M140.6 624.6h0M135.6 637.0h0M135.9 627.0h0M138.0 615.3h0M139.4 625.7h0M134.5 638.2h0M134.4 628.2h0M142.1 642.3h0M143.4 643.3h0M138.3 611.9h0M138.5 619.3h0M138.3 618.3h0M139.6 622.5h0M138.1 625.8h0M142.1 640.0h0M141.3 618.8h0M137.2 613.0h0M142.7 631.0h0M135.5 635.6h0M135.6 643.6h0M143.2 643.2h0M142.8 641.8h0M137.5 627.2h0M135.7 617.7h0M142.9 639.3h0M136.0 621.8h0M141.8 637.8h0M137.2 609.9h0M135.5 631.6h0M141.8 619.6h0M138.9 626.0h0M136.6 623.5h0M140.4 616.5h0M141.4 627.9h0M137.6 608.9h0M136.4 618.8h0M138.2 623.6h0M141.0 617.6h0M139.3 637.8h0M141.3 621.0h0M141.7 629.1h0M139.1 640.4h0M139.5 625.7h0M139.5 617.1h0M140.1 634.7h0M136.4 625.3h0M137.9 615.4h0M137.2 610.8h0M138.5 638.2h0M137.4 612.2h0M138.4 629.7h0M138.4 621.9h0M136.5 643.2h0M139.0 624.9h0M142.7 643.1h0M135.5 614.9h0M134.6 620.2h0M137.3 638.0h0M134.9 635.3h0M141.8 621.3h0M135.2 633.8h0M139.5 630.0h0M138.3 625.0h0M139.4 622.0h0M135.9 634.7h0M137.1 625.5h0M140.2 620.9h0M136.5 611.4h0M141.7 636.5h0M140.6 615.5h0M143.0 638.5h0M139.4 633.4h0M138.0 641.2h0M138.1 640.8h0M141.8 639.7h0M140.9 611.8h0M134.4 623.5h0M138.1 632.0h0M142.4 641.4h0M137.4 623.0h0M142.1 636.4h0M140.3 618.5h0M136.2 635.2h0M135.7 641.6h0M135.4 627.6h0M140.3 630.5h0M142.8 638.9h0M141.0 639.1h0M138.9 641.7h0M136.1 615.6h0M139.3 623.1h0M136.2 622.9h0M141.2 633.3h0M136.2 625.3h0M136.8 634.4h0M137.1 638.4h0M142.0 627.7h0M138.6 627.4h0M137.7 625.4h0M141.2 613.6h0M141.2 637.6h0M141.1 613.5h0M137.1 638.6h0M136.3 640.8h0M141.0 623.3h0M140.2 638.4h0M138.6 618.4h0M140.5 629.5h0M137.1 618.2h0M136.9 614.9h0M138.8 639.6h0M142.5 639.7h0M140.1 620.9h0M136.8 631.1h0M135.3 638.3h0M134.3 627.1h0M135.7 628.7h0M141.0 629.1h0M135.3 643.0h0M141.8 635.8h0M139.0 609.5h0M137.8 623.6h0M135.2 617.0h0M139.1 620.5h0M135.6 619.5h0M142.3 633.5h0M140.3 638.3h0M135.9 624.4h0M138.4 626.9h0M138.1 628.5h0M137.0 622.9h0M135.7 624.9h0M137.5 642.5h0M136.5 634.3h0M134.7 618.2h0M143.2 639.8h0M140.4 630.2h0M137.7 631.2h0M136.4 617.6h0M137.0 629.4h0M137.2 629.7h0M141.5 623.4h0M134.5 641.1h0M138.1 618.7h0M135.5 628.1h0M142.6 633.5h0M135.7 633.3h0M137.0 611.0h0M139.4 631.1h0M141.5 637.7h0M135.3 631.3h0M142.4 643.0h0M136.7 626.9h0M138.4 637.5h0M135.8 620.7h0M137.4 619.6h0M140.2 625.6h0M137.3 640.3h0M139.4 621.7h0M138.3 622.9h0M134.8 625.8h0M142.8 636.3h0M136.2 631.8h0M138.0 622.6h0M138.1 609.8h0M136.5 609.0h0M136.1 620.7h0M141.8 628.0h0M137.7 612.7h0M137.6 623.5h0M135.6 621.3h0M136.0 632.9h0M134.4 642.0h0M142.3 643.3h0M136.1 636.4h0M135.4 617.6h0M141.6 631.0h0M139.5 625.9h0M140.9 642.3h0M138.3 629.2h0M141.4 619.8h0M137.6 635.9h0M139.6 640.0h0M138.9 620.4h0M135.8 612.9h0M140.8 619.8h0M137.6 625.7h0M136.9 642.3h0M140.7 630.2h0M140.0 632.9h0M141.5 618.8h0M138.5 636.2h0M134.4 624.6h0M135.8 628.5h0M139.3 635.3h0M135.9 624.0h0M134.5 618.9h0M138.6 636.1h0M139.7 616.0h0M141.2 619.9h0M137.4 614.4h0M141.3 628.6h0M137.1 623.1h0M138.6 624.8h0M139.1 642.1h0M136.4 625.1h0M136.2 610.7h0M134.4 626.3h0M137.1 634.9h0M135.1 624.5h0M135.8 612.7h0M138.0 642.1h0M138.6 613.4h0M137.0 632.9h0M136.9 634.0h0M142.3 632.7h0M141.5 642.2h0M140.3 612.5h0M138.8 634.1h0M142.9 639.9h0M138.5 638.7h0M139.1 643.7h0M137.7 613.6h0M139.7 617.4h0M140.7 643.6h0M140.8 637.7h0M136.8 621.8h0M139.0 638.9h0M138.6 631.7h0M137.9 635.2h0M141.6 617.6h0M141.3 629.2h0M141.1 623.0h0M139.7 620.8h0M138.9 612.8h0M140.2 615.0h0M139.2 619.5h0M136.8 622.2h0M137.1 642.5h0M142.7 642.0h0M138.1 614.0h0M143.2 641.6h0M138.4 632.5h0M140.9 638.6h0M139.4 639.3h0M141.9 623.5h0M141.9 636.4h0M138.6 617.4h0M140.4 632.0h0M134.5 636.5h0M139.2 641.3h0M138.9 610.1h0M142.2 623.6h0M135.7 636.9h0M137.0 631.7h0M138.8 632.6h0M139.7 618.2h0M142.3 627.8h0M137.0 620.1h0M135.7 624.1h0M137.9 621.1h0M141.2 641.8h0M137.5 632.2h0M139.2 631.1h0M137.2 624.3h0M137.8 634.4h0M136.6 626.9h0M144.2 572.7h0M150.6 579.1h0M157.5 584.3h0M156.1 585.8h0M170.5 585.5h0M152.3 589.2h0M155.2 598.2h0M152.9 601.3h0M158.1 604.0h0M167.5 604.0h0M161.5 611.2h0M165.0 612.3h0M171.9 617.2h0M161.3 621.0h0M180.6 636.0h0M159.2 617.5h0M156.9 615.8h0M155.2 609.4h0M150.0 641.7h0" stroke="#69a93c" stroke-width="1.6" stroke-linecap="round" fill="none"/>
<path d="M355.4 646.1h0M345.9 648.1h0M346.3 651.6h0M347.5 649.6h0M351.3 651.7h0M342.6 649.4h0M353.0 657.2h0M353.4 648.3h0M350.2 646.6h0M358.1 649.7h0M347.4 653.6h0M349.9 657.1h0M345.6 649.7h0M339.8 647.2h0M352.3 647.7h0M367.9 649.9h0M339.0 646.9h0M348.6 651.5h0M357.8 650.9h0M362.0 649.2h0M355.6 654.1h0M336.0 649.0h0M351.2 657.6h0M360.5 653.1h0M345.7 646.4h0M340.9 651.4h0M351.2 653.9h0M345.8 655.6h0M350.6 656.8h0M354.4 651.1h0M355.6 648.4h0M350.6 648.8h0M334.2 649.5h0M353.8 653.3h0M350.7 651.0h0M356.5 647.5h0M351.4 650.8h0M347.5 657.0h0M353.8 647.6h0M354.6 648.0h0M350.8 657.1h0M358.9 649.7h0M355.7 655.7h0M354.5 650.9h0M354.1 649.1h0M350.1 647.5h0M363.1 645.9h0M359.0 647.2h0M349.8 651.2h0M360.9 650.6h0M349.6 645.7h0M348.5 656.8h0M351.2 654.7h0M353.9 654.7h0M350.5 653.8h0M353.3 651.1h0M348.3 648.4h0M350.9 654.9h0M358.8 652.7h0M341.4 647.3h0M356.8 645.8h0M348.4 647.2h0M355.9 651.6h0M351.1 645.9h0M328.6 645.6h0M353.9 656.4h0M347.8 647.2h0M359.3 647.4h0M356.5 651.2h0M356.1 652.3h0M347.0 655.1h0M350.1 658.0h0M351.0 655.3h0M343.8 645.9h0M356.5 646.9h0M348.8 652.4h0M352.3 649.0h0M343.7 650.1h0M344.4 654.5h0M352.3 655.1h0M354.2 648.1h0M336.1 648.3h0M351.6 650.5h0M354.5 656.3h0M356.0 650.4h0M351.0 653.0h0M356.7 654.9h0M352.6 650.7h0M342.3 649.8h0M356.0 649.0h0M356.7 651.7h0M350.0 657.7h0M350.8 648.5h0M360.8 647.4h0M353.9 650.5h0M352.6 646.0h0M350.4 654.3h0M354.9 655.7h0M351.9 654.5h0M343.5 652.9h0M347.9 648.4h0M345.3 650.7h0M361.7 653.1h0M349.2 653.3h0M356.2 652.3h0M353.2 651.4h0M352.0 656.9h0M356.7 645.5h0M349.8 646.0h0M354.8 650.6h0M354.3 650.5h0M356.5 655.4h0M350.7 656.9h0M354.5 649.9h0M351.7 652.1h0M374.0 645.9h0M348.8 651.8h0M353.3 647.5h0M363.4 646.1h0M357.0 646.9h0M335.8 647.1h0M357.9 655.0h0M353.5 645.5h0M348.8 657.6h0M351.2 656.5h0M353.8 654.8h0M347.8 654.6h0M353.7 645.8h0M359.4 652.2h0M349.0 654.0h0M364.7 650.7h0M356.2 645.8h0M344.1 652.6h0M347.7 653.2h0M352.5 656.3h0M343.2 648.4h0M350.8 651.5h0M345.9 648.9h0M346.2 655.2h0M360.8 647.9h0M361.4 647.0h0M348.3 652.6h0M350.0 657.3h0M349.1 650.4h0M352.0 651.2h0M352.3 647.5h0M347.6 653.9h0M351.5 647.8h0M349.8 655.1h0M348.6 650.8h0M350.3 651.4h0M346.6 651.6h0M342.4 646.6h0M330.9 646.5h0M350.7 648.0h0M350.9 654.0h0M353.9 655.9h0M351.8 648.0h0M344.1 650.9h0M360.6 649.8h0M355.0 653.9h0M353.5 646.3h0M346.4 650.7h0M352.5 654.9h0M357.4 650.7h0M345.4 647.0h0M362.3 647.4h0M351.0 652.4h0M351.8 646.7h0M355.0 650.5h0M350.9 649.0h0M349.0 653.9h0M356.4 648.2h0M351.4 657.0h0M336.9 650.4h0M352.4 653.8h0M351.3 651.5h0M348.8 652.7h0M342.6 651.2h0M343.9 654.4h0M343.4 652.8h0M357.8 647.7h0M350.3 650.9h0M354.0 651.0h0M346.6 649.8h0M350.4 653.1h0M349.0 646.6h0M352.1 649.0h0M338.0 650.1h0M350.6 657.7h0M358.9 648.8h0M352.6 657.6h0M342.4 648.3h0M350.0 652.7h0M348.3 649.5h0M349.7 652.2h0M350.7 652.1h0M358.6 654.4h0M347.5 650.2h0M350.5 653.5h0M347.6 648.0h0M348.1 648.5h0M353.0 650.5h0M354.9 650.5h0M348.8 648.1h0M349.0 645.7h0M349.8 647.3h0M350.2 650.9h0M351.8 655.4h0M352.1 649.7h0M361.3 647.1h0M351.6 654.1h0M355.1 655.6h0M353.8 656.9h0M340.8 651.2h0M348.0 655.6h0M350.5 648.0h0M350.8 649.3h0M345.5 649.0h0M351.1 645.9h0M351.9 656.6h0M349.6 647.9h0M353.8 656.2h0M356.4 645.9h0M368.7 648.1h0M338.0 647.3h0M346.5 649.7h0M363.8 649.6h0M351.7 652.1h0M351.8 654.9h0M347.9 655.9h0M356.5 648.6h0M350.3 652.6h0M356.4 655.1h0M347.7 652.6h0M351.6 655.7h0M359.2 649.8h0M347.3 649.6h0M368.5 647.2h0M363.1 651.5h0M349.0 649.1h0M356.5 648.6h0M344.5 648.7h0M347.3 650.3h0M344.2 652.3h0M359.7 648.0h0M374.9 645.8h0M351.3 650.2h0M341.9 649.2h0M352.9 650.1h0M341.4 652.8h0M348.9 656.3h0M355.4 652.3h0M356.1 648.0h0M354.9 650.4h0M330.3 646.2h0M352.6 645.7h0M353.3 656.1h0M356.9 648.9h0M350.4 654.7h0M349.3 655.3h0M338.8 649.9h0M348.7 652.6h0M351.0 653.2h0M350.3 652.6h0M350.6 651.1h0M349.0 656.7h0M355.2 655.4h0M349.4 656.2h0M352.8 657.3h0M334.9 647.4h0M354.0 647.3h0M349.1 650.0h0M353.2 651.9h0M354.5 649.6h0M340.3 652.9h0M352.2 645.9h0M352.7 650.2h0M356.7 645.9h0M350.9 648.5h0M350.8 652.4h0M350.9 645.9h0M353.2 654.0h0M349.1 653.4h0M349.1 649.6h0M360.9 645.9h0M359.5 652.4h0M348.1 650.5h0M351.3 647.0h0M354.5 651.0h0M352.1 652.4h0M357.9 654.4h0M347.4 650.7h0M351.6 646.8h0M353.7 648.9h0M353.1 649.6h0M351.6 657.5h0M355.5 653.3h0M352.1 653.2h0M353.0 646.4h0M361.8 649.6h0M351.0 648.9h0M353.2 648.6h0M351.8 647.5h0M342.5 651.4h0M346.0 647.5h0M350.1 646.7h0M367.6 649.1h0M355.8 655.9h0M350.8 646.0h0M361.5 649.7h0M351.4 653.1h0M354.0 648.4h0M353.6 656.5h0M347.2 647.3h0M351.1 650.0h0M358.6 651.4h0M346.5 652.2h0M358.3 648.1h0M341.1 650.9h0M352.3 653.7h0M359.0 651.6h0M364.6 646.6h0M348.1 653.9h0M342.9 652.4h0M353.2 654.7h0M351.5 645.7h0M360.2 648.2h0M352.4 652.4h0M354.2 649.1h0M347.0 653.8h0M349.9 645.9h0M346.2 651.1h0M349.8 652.4h0M366.1 649.4h0M341.1 648.7h0M345.1 653.3h0M343.4 646.5h0M352.0 649.6h0M351.3 648.1h0M349.9 650.3h0M343.8 654.6h0M353.2 656.7h0M349.0 652.2h0M356.7 651.4h0M351.1 655.5h0M353.1 648.3h0M353.5 648.9h0M343.2 648.7h0M351.0 647.3h0M354.3 652.9h0M350.2 651.1h0M347.1 656.4h0M354.6 651.2h0M344.3 648.0h0M349.5 652.9h0M350.3 646.0h0M363.9 646.9h0M351.4 654.5h0M357.7 648.2h0M349.8 613.7h0M353.5 620.2h0M350.0 621.3h0M353.2 633.5h0M350.3 624.6h0M349.7 632.4h0M352.8 620.7h0M348.7 618.8h0M348.8 634.5h0M352.0 632.6h0M350.9 635.3h0M349.4 610.5h0M351.0 610.9h0M348.7 614.6h0M349.7 626.9h0M349.4 604.4h0M349.1 604.5h0M352.2 623.6h0M349.0 603.0h0M352.2 630.3h0M350.6 643.1h0M352.1 636.8h0M353.4 640.6h0M348.0 623.8h0M348.0 623.1h0M353.3 637.0h0M347.8 624.7h0M353.3 639.9h0M352.5 622.0h0M350.6 627.7h0M352.8 612.6h0M351.1 632.1h0M350.9 609.8h0M353.1 621.1h0M351.4 627.1h0M349.2 622.9h0M352.0 627.4h0M351.8 634.4h0M352.3 617.3h0M352.8 618.9h0M351.7 625.0h0M352.5 610.6h0M349.9 633.9h0M352.2 630.3h0M353.3 622.8h0M353.7 634.9h0M351.1 618.6h0M352.1 610.6h0M348.6 633.1h0M351.8 603.4h0M351.7 645.3h0M351.7 606.2h0M347.6 641.5h0M349.6 602.0h0M353.0 638.8h0M320.0 648.0h0M325.0 650.0h0M380.0 650.0h0M390.0 648.0h0M310.0 646.0h0M383.0 653.0h0M375.0 654.0h0" stroke="#c9c9d0" stroke-width="1.5" stroke-linecap="round" fill="none"/>
<path d="M338.2 636.2h0M341.2 612.0h0M326.8 638.8h0M341.9 613.3h0M338.9 587.9h0M331.5 622.1h0M346.4 642.5h0M345.0 610.5h0M324.8 618.8h0M342.3 592.0h0M344.2 627.9h0M342.3 619.5h0M331.5 592.0h0M335.6 618.6h0M345.2 602.2h0M338.2 623.5h0M346.0 607.7h0M346.5 610.8h0M325.3 607.8h0M344.9 627.5h0M331.1 624.9h0M335.3 593.4h0M334.8 584.1h0M332.8 584.9h0M341.1 600.6h0M344.9 638.4h0M337.3 618.2h0M329.7 593.0h0M337.6 597.2h0M340.9 638.1h0M343.9 634.6h0M329.8 620.6h0M343.2 590.0h0M330.0 605.1h0M339.4 584.0h0M335.4 619.1h0M334.7 607.3h0M337.9 604.4h0M341.8 598.0h0M332.9 617.6h0M347.4 622.3h0M341.5 628.4h0M340.2 605.9h0M338.5 638.3h0M343.2 629.9h0M341.4 595.6h0M336.3 615.8h0M336.1 598.1h0M345.4 602.4h0M334.4 591.7h0M345.2 629.0h0M347.0 608.3h0M341.3 635.9h0M346.2 625.2h0M344.1 610.3h0M336.9 613.2h0M331.8 622.9h0M347.1 615.2h0M326.0 607.3h0M337.4 631.8h0M339.5 597.8h0M335.5 625.5h0M345.9 634.7h0M325.3 615.3h0M345.8 618.6h0M344.0 610.9h0M338.9 583.9h0M327.3 637.1h0M330.2 596.4h0M334.0 626.3h0M341.3 631.7h0M342.6 609.7h0M344.8 607.5h0M343.4 592.8h0M346.4 636.1h0M346.8 627.0h0M328.4 604.9h0M326.1 596.0h0M345.4 604.2h0M334.9 635.7h0M335.8 583.2h0M341.4 639.9h0M345.1 631.3h0M341.7 623.1h0M333.1 611.7h0M326.7 604.8h0M331.1 612.1h0M345.2 599.7h0M343.5 618.5h0M328.4 625.3h0M340.5 608.6h0M328.0 598.8h0M338.6 639.1h0M343.5 604.2h0M342.4 616.2h0M329.2 604.1h0M336.6 598.2h0M344.9 605.5h0M327.5 582.0h0M328.9 613.8h0M335.6 634.4h0M346.3 644.0h0M338.1 639.2h0M342.2 632.5h0M343.8 596.4h0M341.6 613.5h0M338.1 643.6h0M333.6 632.6h0M342.2 601.2h0M331.1 639.3h0M341.3 618.4h0M340.1 645.2h0M341.4 600.0h0M331.8 633.5h0M339.0 620.3h0M330.9 603.4h0M342.3 591.0h0M332.1 606.6h0M332.6 618.7h0M342.6 644.8h0M338.1 643.8h0M335.5 597.9h0M340.5 639.5h0M341.8 637.0h0M334.9 631.3h0M329.9 625.0h0M346.0 629.3h0M333.0 637.0h0M329.7 597.4h0M342.6 625.5h0M345.8 613.2h0M334.4 618.1h0M344.3 633.7h0M341.4 622.1h0M324.4 616.8h0M336.2 625.1h0M331.3 626.8h0M324.7 614.7h0M340.3 624.4h0M339.0 613.4h0M331.1 609.0h0M341.2 618.5h0M341.0 627.4h0M336.4 583.4h0M338.2 626.5h0M341.9 585.0h0M331.2 617.3h0M345.5 603.2h0M341.1 626.2h0M329.3 616.8h0M331.3 605.8h0M326.8 592.9h0M340.7 611.8h0M328.5 632.0h0M345.0 626.7h0M345.0 621.1h0M345.8 624.7h0M333.4 598.5h0M341.1 594.8h0M346.9 608.0h0M343.0 621.3h0M346.3 644.3h0M347.7 644.9h0M346.1 639.3h0M328.7 626.5h0M335.2 619.7h0M335.1 582.3h0M335.5 640.9h0M336.0 624.0h0M342.1 624.5h0M344.0 640.8h0M346.2 624.6h0M345.3 641.0h0M329.5 620.5h0M343.2 636.7h0M333.6 603.8h0M345.4 602.3h0M346.9 644.4h0M344.9 596.3h0M343.5 616.1h0M347.4 627.0h0M339.2 585.0h0M340.5 617.0h0M343.9 600.9h0M344.2 610.6h0M343.0 606.0h0M346.6 619.4h0M347.1 621.4h0M329.6 585.8h0M340.3 603.7h0M347.2 629.6h0M331.0 619.8h0M333.7 614.6h0M337.1 607.5h0M344.8 638.4h0M344.7 624.1h0M341.8 593.9h0M340.0 593.5h0M336.4 607.7h0M345.6 620.5h0M338.6 590.6h0M343.0 601.9h0M335.7 599.9h0M343.2 602.7h0M343.4 627.1h0M334.1 618.4h0M344.6 637.9h0M342.3 640.8h0M340.4 615.0h0M345.4 620.4h0M343.7 619.8h0M345.5 632.6h0M342.2 617.2h0M342.4 626.5h0M347.6 625.3h0M342.7 637.2h0M337.6 598.3h0M345.8 634.5h0M327.9 609.7h0M337.7 608.0h0M333.7 607.7h0M345.0 624.3h0M339.6 606.6h0M341.3 622.6h0M343.6 623.7h0M328.5 644.0h0M338.5 586.2h0M331.8 600.9h0M341.8 602.3h0M343.0 625.9h0M344.7 604.3h0M336.5 617.0h0M336.2 597.1h0M323.5 617.8h0M335.2 597.0h0M328.3 610.8h0M330.1 634.2h0M324.0 581.8h0M346.4 612.4h0M335.5 604.8h0M335.4 606.7h0M340.9 593.4h0M341.4 604.8h0M329.8 623.9h0M333.3 617.0h0M338.1 620.5h0M346.6 620.4h0M334.7 612.7h0M342.6 604.9h0M346.1 634.3h0M326.2 614.6h0M344.0 599.2h0M339.6 591.2h0M345.6 625.7h0M343.2 602.5h0M332.9 592.1h0M339.2 615.3h0M326.0 582.7h0M343.2 594.4h0M341.9 620.8h0M338.9 607.5h0M331.3 586.4h0M340.3 585.4h0M332.9 633.3h0M343.7 593.1h0M339.3 644.6h0M339.4 581.7h0M344.0 629.2h0M343.4 631.3h0M336.4 605.0h0M325.0 623.6h0M345.7 599.8h0M338.6 588.2h0M343.3 612.9h0M336.4 598.0h0M343.0 632.0h0M346.9 613.0h0M328.9 591.3h0M329.2 634.1h0M345.7 606.9h0M330.8 598.1h0M339.3 615.1h0M342.8 616.8h0M344.4 621.3h0M328.1 642.6h0M329.0 614.2h0M326.3 631.1h0M340.1 642.1h0M326.1 638.3h0M345.9 631.3h0M347.1 626.2h0M345.8 604.9h0M334.2 600.4h0M345.0 621.1h0M347.3 617.3h0M338.3 633.1h0M336.2 605.3h0M345.7 637.7h0M343.4 631.7h0M345.0 605.2h0M341.1 623.3h0M342.5 617.4h0M326.7 615.9h0M333.7 590.4h0M335.8 612.0h0M329.6 617.4h0M345.9 617.9h0M334.9 634.3h0M337.9 584.2h0M335.4 633.4h0M325.0 603.0h0M336.8 632.8h0M333.7 629.6h0M344.0 595.2h0M324.5 618.5h0M345.9 629.7h0M342.9 635.5h0M346.6 636.5h0M345.3 609.3h0M336.5 621.9h0M332.1 635.2h0M340.1 609.7h0M333.9 644.6h0M323.9 615.2h0M339.0 604.2h0M343.5 637.4h0M338.2 609.6h0M335.3 612.1h0M347.6 616.8h0M345.9 616.8h0M330.7 590.7h0M345.2 627.5h0M342.8 589.6h0M343.9 620.3h0M338.8 619.0h0M343.5 615.2h0M334.7 602.3h0M337.3 607.8h0M328.4 588.6h0M334.2 631.8h0M339.8 619.3h0M330.3 599.6h0M329.3 588.8h0M336.9 603.1h0M327.0 633.7h0M331.4 618.2h0M331.0 589.4h0M328.4 620.0h0M346.5 621.5h0M336.1 609.2h0M345.8 635.3h0M345.1 634.4h0M341.4 618.3h0M345.0 604.0h0M329.8 623.1h0M344.7 621.7h0M325.4 601.0h0M338.1 618.8h0M336.7 624.3h0M346.2 633.8h0M340.7 626.0h0M346.9 642.2h0M333.2 629.0h0M329.3 588.0h0M336.8 593.2h0M338.1 633.3h0M332.0 642.4h0M338.3 589.1h0M329.3 623.9h0M331.4 598.6h0M335.9 600.7h0M343.5 623.6h0M331.1 641.9h0M345.0 640.9h0M335.6 582.2h0M331.4 611.3h0M342.0 597.0h0M326.5 587.3h0M333.1 640.7h0M327.9 599.7h0M346.3 627.8h0M331.7 623.9h0M347.1 621.1h0M331.0 615.5h0M344.3 602.7h0M336.7 616.7h0M334.6 639.5h0M324.9 613.8h0M336.2 641.0h0M345.9 634.4h0M337.8 600.9h0M336.0 623.7h0M325.2 622.2h0M344.0 625.6h0M329.1 606.8h0M346.2 606.8h0M344.9 606.3h0M337.8 623.3h0M326.0 616.8h0M346.1 643.9h0M340.8 620.1h0M339.7 628.7h0M345.4 641.4h0M326.6 595.6h0M341.9 600.5h0M330.6 625.8h0M342.4 610.6h0M336.5 607.7h0M334.7 608.3h0M347.4 637.2h0M344.1 629.0h0M337.8 622.7h0M334.5 608.9h0M347.2 618.6h0M324.9 628.4h0M338.5 616.2h0M328.7 640.8h0M332.3 596.0h0M338.9 586.7h0M333.2 619.7h0M337.4 610.7h0M337.7 579.9h0M340.1 617.0h0M336.6 626.5h0M344.3 640.7h0M343.5 617.2h0M346.9 631.1h0M332.0 612.4h0M339.9 639.2h0M328.3 591.7h0M340.5 642.9h0M342.6 605.6h0M346.5 617.7h0M327.7 583.2h0M345.7 618.3h0M332.6 636.6h0M344.0 594.2h0M326.8 610.5h0M343.6 634.5h0M340.7 608.6h0M346.1 643.6h0M328.2 637.7h0M334.4 610.1h0M340.5 605.5h0M337.3 635.4h0M338.1 624.3h0M329.6 622.9h0M343.5 613.9h0M333.3 634.1h0M333.6 620.7h0M345.8 611.8h0M326.9 636.7h0M335.6 594.7h0M345.2 599.6h0M346.6 624.9h0M336.9 584.1h0M338.4 599.2h0M342.4 595.5h0M346.1 639.2h0M342.5 640.2h0M337.5 623.3h0M340.6 608.7h0M346.1 615.1h0M344.4 633.3h0M331.8 608.5h0M331.4 635.6h0M340.1 605.2h0M337.0 613.7h0M324.3 606.5h0M336.2 602.2h0M344.6 604.2h0M335.3 597.5h0M327.9 645.0h0M340.5 602.8h0M338.3 584.4h0M337.0 601.1h0M329.4 641.1h0M323.5 618.1h0M343.9 627.1h0M338.9 612.1h0M333.0 629.0h0M345.6 640.0h0M324.1 617.1h0M341.3 601.1h0M342.6 612.9h0M326.1 597.6h0M337.8 590.0h0M338.7 585.8h0M339.8 595.8h0M343.0 614.1h0M327.9 631.2h0M336.1 590.2h0M343.9 615.8h0M343.1 603.1h0M326.2 597.8h0M345.1 604.8h0M341.3 630.1h0M334.9 624.6h0M342.6 616.9h0M347.4 628.8h0M332.0 607.5h0M346.0 629.3h0M344.8 596.7h0M342.4 588.5h0M336.0 623.6h0M344.5 631.7h0M346.0 627.3h0M332.1 583.5h0M337.4 625.4h0M329.1 631.0h0M336.4 599.9h0M334.3 599.2h0M345.5 602.6h0M336.1 614.2h0M343.7 606.8h0M337.5 600.0h0M334.6 586.4h0M335.5 635.3h0M347.5 623.6h0M326.6 638.1h0M344.1 601.3h0M327.3 600.1h0M345.2 603.4h0M345.3 622.9h0M335.0 577.7h0M337.4 606.3h0M342.4 627.1h0M329.3 604.8h0M343.3 595.9h0M345.4 625.6h0M345.4 625.8h0M336.0 604.8h0M326.0 628.1h0M336.4 584.5h0M331.7 596.7h0M342.7 643.0h0M325.3 610.7h0M346.5 643.4h0M322.7 608.8h0M332.2 615.4h0M329.6 640.7h0M346.2 628.0h0M324.5 601.0h0M340.4 629.5h0M336.8 614.9h0M344.4 618.3h0M345.9 601.4h0M326.4 630.8h0M340.9 597.5h0M346.5 605.4h0M333.2 621.6h0M333.7 625.5h0M339.4 639.2h0M342.7 635.2h0M347.5 627.1h0M342.7 591.0h0M347.3 642.8h0M337.4 639.7h0M334.8 601.7h0M332.0 627.2h0M328.0 614.7h0M334.1 643.3h0M326.8 583.3h0M342.4 599.3h0M343.0 643.6h0M340.7 641.2h0M323.2 614.2h0M344.5 610.9h0M345.5 600.3h0M346.4 624.9h0M336.0 599.3h0M340.7 603.8h0M333.0 610.1h0M338.1 620.9h0M346.6 619.2h0M333.6 626.5h0M332.2 617.9h0M345.8 644.3h0M346.0 610.1h0M344.3 596.7h0M325.9 595.0h0M331.3 628.0h0M344.1 608.2h0M323.5 611.9h0M340.8 627.0h0M342.6 610.1h0M341.2 640.5h0M340.3 622.6h0M330.4 621.3h0M347.1 619.9h0M337.5 634.0h0M346.7 612.0h0M346.0 612.4h0M335.9 590.6h0M343.8 620.5h0M337.7 628.5h0M333.6 604.0h0M335.2 585.7h0M333.0 597.7h0M346.8 641.5h0M343.2 639.2h0M332.6 609.1h0M344.7 612.3h0M346.9 633.1h0M347.3 638.3h0M338.0 624.4h0M337.5 599.3h0M338.5 640.4h0M336.0 630.4h0M340.5 627.1h0M340.5 591.6h0M342.1 589.7h0M342.1 595.3h0M328.7 637.2h0M345.0 626.9h0M334.3 603.8h0M343.9 634.3h0M324.3 605.7h0M325.6 586.5h0M346.7 636.5h0M345.9 614.5h0M335.6 608.4h0M333.8 609.3h0M343.5 622.9h0M338.3 627.5h0M344.2 623.9h0M343.6 596.7h0M346.2 629.0h0M326.1 640.8h0M346.1 636.6h0M346.3 628.8h0M333.3 611.3h0M338.2 626.9h0M343.3 625.4h0M339.5 620.6h0M327.4 602.0h0M329.5 599.1h0M345.8 607.8h0M343.3 611.9h0M337.4 644.2h0M334.1 596.6h0M343.1 588.9h0M327.1 635.6h0M343.9 604.2h0M333.8 605.5h0M337.8 597.4h0M335.9 598.1h0M337.1 607.4h0M339.7 592.0h0M339.2 640.9h0M335.8 609.9h0M338.5 619.9h0M340.1 624.1h0M326.8 632.1h0M329.9 614.7h0M340.7 624.8h0M342.3 641.9h0M347.4 645.0h0M339.3 610.0h0M336.6 613.2h0M334.9 613.4h0M333.5 581.1h0M338.6 635.3h0M343.0 624.0h0M343.3 610.2h0M336.0 637.3h0M340.2 604.8h0M342.6 610.8h0M328.6 639.0h0M333.3 644.4h0M344.0 614.3h0M346.2 632.6h0M342.7 595.1h0M341.9 612.2h0M345.1 615.3h0M337.1 630.8h0M338.9 619.7h0M337.8 644.4h0M344.4 595.3h0M334.1 601.7h0M347.6 627.9h0M344.8 625.3h0M341.8 640.3h0M327.1 615.5h0M347.1 624.5h0M341.1 611.7h0M334.6 621.1h0M344.1 623.0h0M345.1 636.3h0M329.7 638.5h0M338.4 642.7h0M341.9 603.7h0M345.2 620.9h0M334.5 606.5h0M340.1 617.1h0M329.9 637.0h0M329.8 618.5h0M333.5 609.6h0M338.7 619.3h0M337.0 624.8h0M331.7 598.8h0M328.7 619.0h0M340.4 599.3h0M336.6 587.5h0M343.7 595.9h0M338.7 636.2h0M335.8 610.3h0M335.5 617.1h0M337.2 600.9h0M332.9 592.5h0M332.0 624.5h0M340.9 633.7h0M330.1 624.4h0M336.6 611.9h0M324.7 616.2h0M341.5 636.1h0M330.5 603.6h0M341.5 631.4h0M340.3 638.2h0M344.4 635.8h0M333.4 636.9h0M343.2 644.2h0M338.1 621.0h0M335.6 626.3h0M333.6 613.3h0M342.3 594.3h0M332.1 631.2h0M343.2 624.5h0M344.7 626.5h0M335.2 611.7h0M339.6 644.5h0M342.2 604.5h0M335.7 634.0h0M340.1 608.9h0M326.8 634.3h0M339.1 619.4h0M337.5 599.8h0M343.4 602.3h0M339.2 603.9h0M347.5 630.6h0M346.6 625.4h0M346.4 613.0h0M339.4 626.6h0M346.6 608.9h0M334.1 578.7h0M337.7 636.9h0M334.1 643.4h0M339.8 606.5h0M325.5 586.3h0M341.2 591.2h0M343.3 617.3h0M343.0 596.8h0M334.1 626.3h0M343.9 602.6h0M336.0 627.4h0M334.7 608.8h0M344.0 620.7h0M331.0 591.1h0M330.8 612.6h0M338.2 616.1h0M346.6 609.6h0M339.0 582.7h0M345.2 641.4h0M340.0 612.1h0M346.7 609.4h0M331.6 640.7h0M338.6 636.8h0M335.7 613.9h0M341.9 615.6h0M342.0 585.9h0M343.1 618.8h0M343.9 626.5h0M324.0 591.7h0M323.4 607.6h0M346.5 629.6h0M337.4 595.1h0M326.2 639.5h0M332.9 638.8h0M325.7 636.8h0M335.8 593.8h0M345.2 617.2h0M327.6 629.7h0M344.5 604.6h0M346.9 637.7h0M346.5 609.7h0M346.1 629.6h0M337.9 591.4h0M340.1 629.1h0M343.7 596.4h0M332.3 633.5h0M340.1 636.1h0M342.0 601.0h0M328.6 599.9h0M332.9 603.0h0M342.4 600.7h0M342.8 618.7h0M325.2 582.0h0M344.1 607.2h0M343.6 619.1h0M341.9 612.4h0M332.3 616.5h0M329.0 628.0h0M346.5 630.1h0M328.5 601.4h0M344.4 616.3h0M323.7 617.5h0M347.4 635.5h0M334.8 595.7h0M345.2 641.6h0M344.5 614.0h0M333.7 593.0h0M340.8 604.1h0M334.1 609.0h0M336.4 635.9h0M339.1 607.3h0M332.8 595.7h0M328.8 633.3h0M345.5 598.2h0M333.3 601.3h0M328.4 637.3h0M336.9 596.5h0M340.9 598.3h0M338.2 622.6h0M332.3 624.8h0M336.2 622.9h0M327.9 617.9h0M341.4 628.3h0M342.5 607.7h0M337.3 608.6h0M346.4 632.9h0M328.3 611.8h0M323.8 585.2h0M335.5 586.2h0M337.5 607.0h0M342.2 607.1h0M332.3 619.7h0M335.0 642.0h0M330.4 607.6h0M344.4 611.3h0M328.6 644.2h0M328.3 633.5h0M335.1 591.2h0M338.3 590.6h0M347.4 614.9h0M327.2 603.5h0M341.5 601.8h0M340.8 608.7h0M336.1 589.1h0M339.1 619.9h0M341.1 624.5h0M347.0 606.9h0M341.4 629.1h0M325.9 611.9h0M343.0 618.9h0M339.5 599.2h0M334.4 584.4h0M339.9 616.0h0M342.4 629.1h0M332.7 594.9h0M330.6 584.1h0M339.2 629.4h0M342.2 617.5h0M323.5 623.7h0M343.5 630.4h0M344.5 619.2h0M335.9 590.5h0M337.7 613.4h0M337.0 617.6h0M328.0 591.5h0M326.9 617.1h0M340.9 605.5h0M338.8 612.0h0M332.5 629.8h0M325.5 602.5h0M338.5 635.0h0M337.4 639.3h0M339.3 584.3h0M342.7 588.7h0M333.9 625.4h0M340.2 605.0h0M336.3 604.3h0M340.4 596.3h0M345.6 608.3h0M336.6 611.6h0M335.6 592.3h0M341.0 598.2h0M334.9 626.3h0M344.6 631.6h0M342.5 600.2h0M342.8 638.3h0M336.1 579.7h0M341.2 635.0h0M345.4 597.8h0M342.3 631.1h0M333.5 619.5h0M340.4 636.2h0M343.4 595.6h0M345.4 606.7h0M328.0 618.4h0M329.2 640.2h0M332.3 639.8h0M337.9 625.6h0M344.7 638.8h0M338.2 615.8h0M337.1 601.9h0M346.0 626.9h0M344.8 606.0h0M342.2 638.2h0M339.8 636.5h0M340.6 636.9h0M333.1 585.1h0M325.5 611.6h0M343.7 609.3h0M330.4 641.1h0M344.9 611.1h0M331.9 593.9h0M343.1 594.2h0M341.7 632.1h0M329.3 619.1h0M334.4 617.3h0M343.2 626.0h0M331.1 634.3h0M340.3 634.5h0M327.5 588.8h0M325.0 611.2h0M334.4 619.9h0M330.6 629.7h0M342.5 590.0h0M339.1 628.7h0M343.4 610.4h0M347.4 644.3h0M336.1 599.3h0M329.0 621.3h0M344.8 596.0h0M339.2 635.5h0M325.6 616.2h0M335.8 624.8h0M335.0 601.0h0M337.3 639.9h0M325.4 619.5h0M328.2 581.0h0M326.3 628.9h0M346.4 626.1h0M331.8 644.0h0M340.5 598.0h0M341.4 642.9h0M334.9 621.2h0M328.9 632.0h0M338.1 596.3h0M341.3 599.6h0M331.7 618.2h0M342.4 643.2h0M324.6 596.5h0M334.3 585.0h0M329.8 595.0h0M337.8 640.2h0M338.2 618.1h0M328.9 597.0h0M340.2 640.2h0M346.0 619.1h0M325.2 611.2h0M344.7 640.7h0M339.1 595.0h0M336.2 582.6h0M343.8 601.2h0M342.3 625.0h0M338.7 641.3h0M347.5 623.4h0M346.5 636.9h0M343.0 610.1h0M347.3 614.3h0M337.1 640.0h0M336.4 644.9h0M338.9 631.2h0M325.5 635.0h0M344.3 596.7h0M333.0 583.6h0M340.6 590.5h0M344.3 596.2h0M330.4 602.1h0M331.0 637.0h0M335.1 603.3h0M323.3 614.5h0M345.7 641.6h0M325.1 624.1h0M329.6 609.7h0M340.6 624.0h0M347.3 635.7h0M329.6 615.7h0M345.1 602.7h0M346.5 623.4h0M342.0 612.5h0M346.1 622.0h0M329.8 591.3h0M324.3 633.4h0M342.6 645.1h0M342.9 605.8h0M343.3 603.0h0M346.7 625.1h0M326.9 610.8h0M342.6 590.1h0M327.8 608.5h0M341.0 628.9h0M345.1 614.8h0M346.4 635.7h0M346.6 628.4h0M338.8 637.2h0M340.7 590.7h0M337.6 617.8h0M334.0 637.6h0M343.4 607.8h0M334.8 627.3h0M335.8 617.5h0M335.2 628.5h0M345.1 627.3h0M334.8 598.7h0M339.7 616.7h0M332.0 639.9h0M344.6 638.1h0M346.9 607.7h0M325.1 631.6h0M332.4 612.7h0M325.3 628.2h0M342.0 611.3h0M325.5 602.0h0M324.5 618.0h0M338.8 599.0h0M334.9 594.5h0M337.9 618.8h0M326.8 629.1h0M331.8 590.8h0M344.5 599.4h0M345.7 633.4h0M328.1 584.5h0M335.6 613.7h0M323.8 595.2h0M336.6 622.1h0M335.9 601.4h0M326.8 601.9h0M344.3 605.3h0M345.3 625.8h0M329.6 630.7h0M344.6 616.5h0M328.6 601.8h0M342.7 619.6h0M338.8 597.0h0M332.6 626.1h0M326.9 621.7h0M339.0 597.1h0M333.8 591.2h0M328.0 639.5h0M345.0 632.2h0M323.7 603.1h0M333.1 642.4h0M329.2 606.3h0M342.8 604.7h0M339.1 590.8h0M325.2 635.6h0M334.4 627.3h0M347.0 631.0h0M341.3 596.9h0M326.5 597.4h0M341.4 612.3h0M336.7 579.7h0M340.8 591.6h0M337.1 587.8h0M331.7 642.5h0M347.5 619.3h0M327.8 633.3h0M323.8 628.9h0M338.6 604.4h0M347.0 643.6h0M340.8 633.0h0M338.1 594.8h0M339.3 587.7h0M331.2 633.4h0M334.4 625.6h0M331.2 594.9h0M344.5 644.9h0M344.8 631.5h0M325.8 630.5h0M345.6 619.3h0M346.1 613.4h0M330.2 592.3h0M343.2 610.5h0M347.6 628.5h0M345.2 627.6h0M341.6 602.4h0M341.4 634.8h0M345.4 601.0h0M337.9 584.6h0M342.9 592.9h0M338.1 633.3h0M340.3 613.8h0M342.8 627.9h0M335.8 596.4h0M344.7 623.7h0M339.9 604.2h0M327.7 584.5h0M340.2 589.7h0M345.6 604.8h0M336.9 623.7h0M343.1 608.0h0M333.1 610.9h0M341.6 620.2h0M344.7 633.5h0M331.4 623.8h0M339.0 597.2h0M325.6 624.2h0M346.4 626.4h0M339.6 609.0h0M329.5 624.2h0M346.0 635.1h0M346.2 614.6h0M344.8 624.9h0M332.8 588.0h0M346.1 636.9h0M344.7 626.4h0M346.0 616.7h0M343.9 633.7h0M344.5 607.5h0M344.1 614.1h0M340.6 638.5h0M326.2 589.5h0M328.6 604.9h0M329.9 639.2h0M345.8 625.9h0M323.6 613.5h0M346.5 635.6h0M330.1 637.8h0M339.2 609.2h0M343.9 602.3h0M344.3 610.7h0M334.5 580.0h0M338.5 600.1h0M344.8 624.6h0M332.4 586.1h0M346.2 635.5h0M330.1 624.7h0M335.7 596.6h0M347.4 620.4h0M339.1 640.8h0M331.6 580.8h0M337.5 629.1h0M342.6 638.6h0M341.4 609.2h0M342.5 611.9h0M339.1 630.2h0M333.7 595.3h0M327.4 640.6h0M333.5 634.7h0M337.4 617.4h0M337.2 632.0h0M331.9 578.6h0M333.0 625.6h0M334.3 599.9h0M344.9 609.5h0M338.5 638.3h0M347.7 633.4h0M346.7 622.9h0M339.6 633.0h0M330.3 598.8h0M345.5 606.9h0M329.5 625.4h0M340.7 627.6h0M339.3 622.3h0M327.3 640.4h0M331.3 613.4h0M330.3 596.2h0M336.4 639.3h0M325.7 582.9h0M343.5 608.9h0M331.2 645.1h0M343.3 591.1h0M340.8 622.3h0M324.5 617.8h0M345.1 640.6h0M337.2 622.3h0M334.8 619.9h0M345.1 604.7h0M324.5 590.9h0M325.0 636.2h0M347.5 626.8h0M335.7 605.3h0M329.5 595.2h0M340.4 587.6h0M345.5 643.4h0M347.4 614.5h0M343.1 643.3h0M340.0 645.3h0M344.0 644.5h0M345.4 625.8h0M345.6 604.9h0M336.7 593.4h0M340.0 608.0h0M342.3 631.0h0M346.9 606.4h0M336.4 612.4h0M343.5 625.7h0M340.3 644.9h0M333.5 602.9h0M339.2 581.4h0M328.8 644.3h0M335.0 584.3h0M341.2 618.5h0M326.2 635.0h0M339.2 633.7h0M330.1 622.8h0M326.5 627.3h0M327.0 641.5h0M343.3 639.5h0M336.1 592.1h0M340.3 616.7h0M344.1 610.6h0M343.3 612.2h0M337.5 630.9h0M331.5 631.8h0M326.2 582.0h0M329.1 592.8h0M332.5 578.5h0M339.1 631.3h0M334.8 596.3h0M335.6 634.2h0M345.2 620.9h0M336.5 608.8h0M331.7 600.5h0M343.5 629.9h0M338.0 606.9h0M344.7 618.9h0M341.1 630.8h0M341.8 625.0h0M343.4 595.9h0M339.9 614.3h0M324.4 619.6h0M338.8 638.4h0M342.9 594.5h0M347.2 629.1h0M335.4 600.3h0M338.6 587.8h0M336.6 622.9h0M327.0 643.2h0M335.3 635.2h0M344.2 595.3h0M340.7 621.5h0M337.3 617.0h0M331.3 594.5h0M342.0 592.4h0M346.8 623.5h0M328.4 642.6h0M338.3 629.0h0M347.1 642.0h0M333.8 597.4h0M337.8 644.0h0M346.1 634.0h0M332.4 615.5h0M343.2 604.2h0M338.3 637.2h0M345.2 630.1h0M324.9 625.2h0M345.0 642.7h0M327.8 622.3h0M346.7 644.7h0M332.9 590.7h0M341.0 626.0h0M335.8 629.8h0M331.8 644.3h0M332.3 608.2h0M343.2 621.2h0M338.6 643.9h0M338.8 645.1h0M333.6 583.5h0M344.5 601.5h0M335.1 585.3h0M346.0 603.9h0M331.7 635.0h0M334.7 628.7h0M339.7 591.8h0M343.7 608.4h0M333.6 642.0h0M345.6 638.2h0M333.8 610.8h0M342.2 619.3h0M337.2 629.7h0M343.8 598.0h0M325.5 620.0h0M339.7 643.9h0M343.1 613.0h0M333.1 620.1h0M325.2 637.8h0M339.1 599.4h0M335.7 615.2h0M327.7 594.4h0M341.0 589.2h0M327.3 616.3h0M336.0 639.1h0M343.8 613.0h0M330.1 605.8h0M338.7 630.5h0M343.3 611.9h0M343.6 597.0h0M337.8 617.9h0M331.2 594.4h0M333.3 636.5h0M337.1 607.8h0M339.2 632.1h0M344.1 638.0h0M347.5 614.7h0M341.7 607.7h0M340.5 607.7h0M344.4 606.0h0M337.9 591.9h0M325.3 615.6h0M346.7 612.2h0M325.4 603.1h0M336.2 636.1h0M334.6 608.5h0M344.4 629.5h0M347.2 614.2h0M324.6 591.2h0M334.2 632.7h0M335.8 612.7h0M330.4 623.0h0M328.3 621.6h0M336.8 579.6h0M330.0 645.2h0M345.4 599.6h0M336.7 637.9h0M332.8 589.3h0M346.6 609.0h0M345.8 633.9h0M336.9 581.5h0M331.5 596.8h0M329.6 606.6h0M327.0 641.3h0M325.6 637.3h0M343.2 611.8h0M344.7 627.1h0M340.0 624.1h0M337.0 593.9h0M336.8 642.9h0M333.6 594.6h0M344.5 608.7h0M334.0 630.7h0M331.4 582.2h0M341.6 603.2h0M325.1 587.0h0M330.5 582.6h0M343.9 634.6h0M346.3 643.0h0M335.9 629.2h0M327.5 603.6h0M340.0 624.2h0M346.7 628.8h0M338.6 590.4h0M344.8 595.7h0M326.9 592.4h0M339.2 636.4h0M345.3 630.1h0M343.2 598.0h0M345.0 631.6h0M343.0 621.0h0M335.8 621.7h0M335.0 595.0h0M334.0 624.7h0M347.3 623.5h0M344.8 630.9h0M334.6 597.8h0M331.3 601.7h0M329.0 588.7h0M330.3 609.3h0M345.6 598.1h0M337.0 595.7h0M336.7 606.8h0M334.6 591.5h0M341.8 632.0h0M329.5 624.1h0M346.2 640.3h0M326.2 624.9h0M342.3 590.4h0M340.2 624.0h0M332.3 624.7h0M328.4 596.6h0M341.3 619.8h0M325.0 601.8h0M346.7 612.8h0M336.9 596.2h0M346.5 633.5h0M324.3 609.7h0M323.4 604.0h0M325.4 632.6h0M324.5 621.7h0M334.1 629.0h0M343.5 622.1h0M331.6 600.3h0M337.3 591.5h0M347.0 625.6h0M345.2 610.9h0M330.5 616.9h0M329.5 578.8h0M343.9 594.0h0M346.4 633.3h0M345.3 604.0h0M341.5 623.8h0M345.3 641.5h0M326.5 612.8h0M338.7 596.1h0M342.3 617.8h0M328.7 608.5h0M336.6 605.9h0M344.2 620.9h0M333.2 625.2h0M337.8 624.8h0M344.6 639.2h0M330.3 606.0h0M336.2 612.9h0M324.2 607.2h0M329.5 602.8h0M322.9 610.2h0M334.2 593.3h0M328.3 630.6h0M339.3 612.4h0M326.3 625.6h0M327.4 625.5h0M338.9 582.8h0M340.6 610.4h0M338.8 637.6h0M346.7 615.5h0M326.9 602.3h0M342.8 610.1h0M333.3 627.6h0M347.5 627.3h0M332.0 589.8h0M344.5 611.8h0M341.4 616.9h0M344.5 616.8h0M336.1 643.2h0M331.9 593.9h0M336.4 623.3h0M342.4 633.0h0M347.7 639.6h0M346.5 607.9h0M346.6 628.5h0M333.4 640.2h0M325.9 637.4h0M345.7 612.4h0M336.8 603.9h0M344.8 603.2h0M345.5 622.9h0M335.2 615.6h0M344.6 624.0h0M320.6 636.7h0M321.2 626.4h0M327.2 643.3h0M323.6 639.7h0M321.7 631.0h0M316.8 619.8h0M326.1 628.5h0M322.5 631.2h0M325.0 624.0h0M321.6 617.5h0M327.7 645.1h0M314.0 620.7h0M315.7 631.8h0M324.6 631.7h0M315.7 630.4h0M316.4 627.6h0M318.0 615.7h0M319.3 631.6h0M318.8 628.9h0M318.8 624.5h0M320.7 633.9h0M317.9 634.2h0M321.7 629.1h0M322.4 612.3h0M324.5 621.5h0M323.0 626.5h0M313.9 626.5h0M323.9 617.3h0M320.7 617.5h0M325.0 622.8h0M319.1 629.8h0M317.3 633.0h0M323.7 629.4h0M312.8 621.1h0M320.2 628.1h0M323.4 626.9h0M316.0 631.2h0M319.4 633.3h0M324.3 634.9h0M320.5 635.8h0M323.1 621.0h0M315.6 619.7h0M320.4 627.8h0M322.8 622.4h0M325.0 628.2h0M325.0 633.6h0M314.4 619.6h0M320.9 634.4h0M319.6 622.4h0M325.0 636.8h0M324.4 630.4h0M326.4 633.5h0M314.6 625.6h0M325.4 643.0h0M319.7 614.1h0M325.3 628.5h0M320.9 621.0h0M322.5 613.5h0M320.0 638.1h0M324.2 635.6h0M314.6 630.3h0M319.5 615.0h0M321.3 618.8h0M313.9 620.7h0M324.9 632.7h0M322.0 620.4h0M315.0 621.8h0M322.0 639.5h0M315.1 628.7h0M315.9 618.7h0M324.3 630.4h0M316.1 621.2h0M323.6 615.2h0M317.4 629.5h0M326.4 645.0h0M319.1 625.2h0M324.4 626.8h0M324.4 640.5h0M318.6 617.5h0M318.0 623.5h0M317.8 632.6h0M316.9 628.4h0M322.3 626.5h0M321.6 637.8h0M324.0 640.5h0M320.3 634.3h0M318.0 624.9h0M327.4 644.4h0M323.4 641.7h0M314.6 628.5h0M323.8 631.3h0M325.4 630.1h0M321.6 622.5h0M320.5 613.2h0M325.4 628.0h0M315.1 619.5h0M326.1 630.7h0M322.7 612.0h0M317.8 621.4h0M317.0 625.5h0M318.4 633.5h0M323.7 633.5h0M318.1 617.4h0M314.1 625.2h0M321.3 623.1h0M315.4 626.6h0M315.6 619.4h0M321.3 626.1h0M319.0 625.1h0M315.4 628.6h0M323.1 622.4h0M324.7 630.6h0M314.9 628.4h0M317.5 620.4h0M320.4 619.9h0M325.6 633.8h0M323.9 619.0h0M321.1 617.0h0M320.2 628.5h0M314.9 626.4h0M316.6 624.4h0M320.1 626.2h0M317.2 618.9h0M318.4 627.7h0M325.0 627.3h0M320.0 633.8h0M314.7 618.5h0M319.8 627.8h0M326.4 633.0h0M324.1 622.0h0M313.9 624.2h0M318.0 625.2h0M321.8 621.6h0M326.1 630.6h0M322.9 618.5h0M320.2 629.0h0M322.3 626.3h0M325.5 641.0h0M324.2 642.5h0M316.7 631.5h0M322.0 617.6h0M320.6 631.0h0M317.9 618.0h0M317.2 624.6h0M322.6 611.9h0M325.4 630.3h0M323.8 641.4h0M327.8 639.9h0M327.4 643.9h0M315.2 623.8h0M320.6 621.7h0M324.7 634.6h0M324.7 635.1h0M320.0 619.5h0M323.5 637.8h0M318.1 634.2h0M314.6 619.4h0M323.4 628.8h0M322.8 627.8h0M321.1 621.9h0M319.3 620.3h0M312.7 621.1h0M316.6 629.6h0M321.4 625.7h0M324.3 628.5h0M320.2 626.6h0M327.2 640.7h0M323.1 637.2h0M324.7 638.2h0M318.6 633.4h0M316.7 629.1h0M324.0 640.7h0M324.6 629.7h0M322.1 633.1h0M317.6 621.3h0M317.2 626.3h0M324.0 617.2h0M326.4 629.6h0M323.6 628.1h0M320.3 628.8h0M322.3 612.0h0M313.2 623.4h0M325.0 625.7h0M312.4 621.5h0M326.4 637.6h0M323.6 638.5h0M315.7 619.9h0M312.5 621.3h0M323.8 636.0h0M313.6 624.7h0M315.9 616.9h0M319.7 628.5h0M326.4 641.7h0M314.8 629.2h0M324.7 624.3h0M323.1 616.9h0M321.9 640.4h0M316.6 620.4h0M313.2 627.0h0M317.3 624.7h0M288.8 581.5h0M301.2 590.3h0M298.5 603.5h0M301.9 610.4h0M307.2 604.2h0M310.0 612.7h0M315.8 610.4h0M322.7 578.8h0M313.0 607.0h0M318.0 603.0h0M308.0 610.0h0M311.0 620.0h0M306.5 605.0h0M317.0 598.0h0M320.5 588.0h0M304.0 617.0h0" stroke="#a80d30" stroke-width="1.6" stroke-linecap="round" fill="none"/>
<path d="M372.1 607.4h0M370.4 640.9h0M357.6 587.7h0M361.0 619.5h0M363.2 610.4h0M370.6 637.9h0M355.8 638.3h0M358.4 630.6h0M358.1 594.4h0M357.1 612.6h0M372.1 592.6h0M362.9 587.8h0M360.8 614.3h0M367.9 610.7h0M354.6 620.1h0M360.3 627.1h0M362.6 606.5h0M358.1 615.3h0M355.3 621.2h0M362.2 624.2h0M360.0 600.8h0M382.1 614.7h0M361.5 599.0h0M356.4 618.6h0M359.2 641.7h0M367.0 603.0h0M361.9 592.9h0M361.9 599.5h0M363.3 581.5h0M355.3 626.4h0M367.9 609.8h0M365.2 611.7h0M359.8 642.4h0M354.3 602.0h0M355.5 616.9h0M366.3 640.4h0M371.2 604.4h0M353.8 612.4h0M359.3 638.6h0M363.0 594.3h0M369.3 630.2h0M358.1 599.7h0M361.2 634.5h0M356.7 634.0h0M362.3 601.9h0M362.5 601.8h0M357.5 617.9h0M357.1 621.9h0M367.9 613.1h0M362.3 611.7h0M368.5 602.1h0M361.8 634.7h0M356.2 606.5h0M356.1 634.6h0M360.9 599.9h0M366.7 615.0h0M369.3 595.0h0M354.4 625.3h0M353.7 608.0h0M367.3 586.1h0M365.3 589.7h0M359.8 630.9h0M366.1 620.6h0M364.9 613.2h0M364.0 597.7h0M358.8 618.1h0M357.2 618.6h0M354.8 603.5h0M359.2 606.0h0M354.4 637.0h0M360.0 617.0h0M369.2 624.1h0M370.0 609.8h0M362.4 618.9h0M366.0 604.4h0M364.0 635.9h0M356.7 621.1h0M360.2 593.3h0M363.7 608.5h0M368.7 631.6h0M366.5 641.0h0M370.6 621.1h0M357.6 622.2h0M357.2 613.7h0M367.7 617.2h0M359.8 620.7h0M357.5 623.9h0M362.6 642.3h0M357.8 625.7h0M357.8 614.4h0M362.7 585.0h0M359.4 593.7h0M357.5 605.9h0M368.0 597.5h0M362.9 627.1h0M367.1 606.5h0M354.9 638.3h0M375.7 583.2h0M363.5 629.2h0M359.2 601.8h0M372.0 594.6h0M362.2 610.3h0M371.3 612.1h0M369.8 619.7h0M362.6 603.8h0M357.9 608.0h0M370.7 641.1h0M370.3 590.8h0M354.1 613.4h0M354.4 641.4h0M365.6 608.4h0M356.7 611.7h0M363.9 593.8h0M369.4 643.8h0M364.5 616.5h0M366.5 632.5h0M370.2 583.9h0M369.4 601.8h0M371.2 616.8h0M368.7 607.5h0M356.1 594.5h0M372.2 609.0h0M361.6 602.3h0M368.2 621.9h0M360.8 620.0h0M369.9 610.8h0M358.2 613.5h0M370.7 614.9h0M365.1 618.6h0M368.0 609.4h0M357.7 610.3h0M368.7 604.5h0M357.4 593.3h0M355.6 632.3h0M365.0 588.4h0M354.9 616.1h0M362.3 619.4h0M359.5 607.3h0M355.8 628.2h0M373.6 602.0h0M366.4 617.1h0M363.3 621.5h0M357.3 629.2h0M360.6 588.5h0M363.5 584.8h0M365.6 626.8h0M366.4 632.9h0M365.6 607.9h0M367.1 610.4h0M358.7 631.8h0M374.4 587.7h0M362.7 604.9h0M378.1 609.5h0M364.3 589.9h0M358.6 592.1h0M365.9 643.0h0M365.2 584.8h0M363.0 616.2h0M365.7 642.2h0M383.3 633.6h0M371.9 641.2h0M371.9 607.5h0M361.9 604.4h0M371.1 617.3h0M354.3 615.1h0M361.9 644.2h0M354.8 601.0h0M369.1 619.3h0M361.4 629.4h0M357.3 631.1h0M354.0 605.3h0M367.7 616.0h0M361.8 636.4h0M354.6 629.0h0M357.1 613.9h0M363.9 634.2h0M368.4 596.1h0M357.8 621.2h0M355.0 624.4h0M353.8 627.0h0M353.9 617.3h0M356.0 638.7h0M355.8 634.4h0M365.9 599.1h0M362.0 627.9h0M357.3 603.5h0M359.7 639.8h0M374.7 634.1h0M364.8 633.0h0M367.5 583.6h0M362.0 640.5h0M354.8 634.5h0M365.6 608.6h0M360.0 604.5h0M365.6 581.1h0M357.3 624.1h0M354.0 641.7h0M378.6 609.3h0M366.1 601.1h0M358.3 626.1h0M354.5 607.3h0M357.8 628.2h0M358.1 625.4h0M360.6 621.0h0M369.4 583.8h0M355.7 626.5h0M364.4 615.7h0M367.3 620.6h0M371.9 613.5h0M355.5 630.2h0M366.9 608.5h0M369.9 606.6h0M360.3 608.6h0M366.2 606.7h0M365.8 602.4h0M360.0 641.4h0M371.5 598.9h0M365.0 610.3h0M359.3 616.4h0M371.0 579.6h0M355.4 637.3h0M360.3 628.0h0M367.0 633.5h0M362.4 598.1h0M354.5 611.1h0M355.1 621.7h0M370.3 598.0h0M360.3 612.8h0M356.2 620.8h0M360.8 605.6h0M353.9 617.1h0M366.5 630.0h0M371.7 642.2h0M355.8 626.6h0M360.6 611.3h0M354.6 626.2h0M356.7 617.4h0M355.4 618.1h0M356.7 622.9h0M354.9 631.2h0M363.0 618.1h0M356.7 627.5h0M373.7 587.9h0M361.4 626.9h0M361.9 628.8h0M355.9 641.9h0M357.4 589.4h0M372.3 594.7h0M354.4 613.8h0M357.3 640.3h0M371.6 596.9h0M356.8 614.9h0M357.3 603.5h0M366.0 590.6h0M367.0 598.0h0M368.0 602.2h0M356.1 602.5h0M364.6 595.1h0M367.5 637.3h0M355.6 614.4h0M361.8 623.3h0M358.6 594.3h0M367.4 630.2h0M365.5 637.3h0M368.1 610.0h0M364.3 643.9h0M368.9 626.6h0M358.9 620.8h0M354.1 615.2h0M360.2 615.7h0M354.4 639.5h0M368.0 583.0h0M367.3 586.0h0M359.6 622.9h0M358.3 644.2h0M358.6 621.5h0M356.8 591.6h0M371.5 613.3h0M366.8 618.7h0M365.4 613.8h0M366.7 637.9h0M354.2 632.7h0M368.7 605.1h0M358.7 621.5h0M371.7 593.1h0M358.8 611.1h0M371.2 592.6h0M367.7 597.3h0M360.6 603.8h0M359.6 629.6h0M360.1 598.7h0M356.9 598.5h0M355.1 639.6h0M369.4 582.4h0M365.5 597.8h0M356.7 643.4h0M366.0 634.8h0M366.5 588.0h0M359.9 607.9h0M357.7 610.4h0M358.2 639.8h0M368.5 625.1h0M359.1 637.4h0M366.0 593.4h0M362.7 598.0h0M355.3 595.7h0M374.4 613.6h0M372.0 607.6h0M366.5 589.2h0M359.4 595.8h0M373.4 640.6h0M354.8 602.8h0M366.0 614.6h0M363.8 580.9h0M371.8 621.7h0M360.7 587.9h0M356.7 614.7h0M364.2 625.7h0M357.5 597.1h0M358.7 602.8h0M355.9 603.7h0M357.6 641.7h0M353.7 611.8h0M358.6 637.9h0M363.5 620.0h0M359.4 626.2h0M365.0 633.3h0M356.5 602.7h0M354.0 616.6h0M355.3 610.2h0M363.9 604.4h0M363.8 586.2h0M370.6 618.9h0M365.1 608.3h0M365.9 588.1h0M365.2 631.9h0M367.8 618.0h0M373.2 640.7h0M360.4 601.2h0M360.8 634.7h0M358.4 619.7h0M363.9 625.4h0M360.9 616.6h0M356.9 610.7h0M360.1 617.9h0M371.2 625.6h0M358.0 630.4h0M364.7 603.1h0M367.3 610.7h0M370.4 603.5h0M362.3 609.5h0M371.8 640.6h0M366.5 641.8h0M370.2 625.7h0M362.8 595.6h0M374.6 642.2h0M365.0 634.5h0M356.9 596.3h0M357.8 611.4h0M369.5 641.9h0M367.4 643.2h0M374.3 629.6h0M362.6 592.5h0M363.5 622.7h0M356.8 622.2h0M359.0 622.1h0M367.5 601.4h0M366.3 607.7h0M358.1 634.6h0M354.6 624.2h0M363.3 590.6h0M366.7 633.8h0M356.6 617.9h0M365.4 618.1h0M356.3 593.2h0M356.0 622.9h0M360.4 590.1h0M360.9 624.2h0M363.5 589.2h0M365.3 614.7h0M369.8 597.8h0M363.7 631.9h0M356.4 623.4h0M365.4 598.1h0M355.2 617.2h0M360.8 628.3h0M355.2 636.3h0M358.6 639.6h0M371.2 637.9h0M365.4 618.3h0M360.7 608.3h0M360.4 617.9h0M365.5 637.2h0M357.0 617.8h0M364.7 622.4h0M360.0 623.5h0M367.7 624.2h0M360.4 607.5h0M363.8 603.8h0M366.2 595.8h0M366.5 583.9h0M355.0 611.2h0M356.8 621.9h0M364.6 640.9h0M358.9 602.8h0M362.2 635.9h0M357.4 588.3h0M359.1 619.7h0M368.2 629.9h0M357.0 638.6h0M361.9 609.8h0M360.5 616.5h0M370.6 627.3h0M354.5 614.1h0M359.0 588.1h0M379.0 602.8h0M365.9 632.6h0M366.0 606.5h0M366.9 584.3h0M355.9 608.2h0M354.8 638.5h0M355.5 613.6h0M367.6 615.4h0M360.7 590.5h0M365.9 590.4h0M369.9 592.8h0M366.1 605.6h0M368.5 599.1h0M366.4 623.1h0M357.6 638.1h0M359.4 606.8h0M367.2 603.5h0M361.6 620.6h0M354.4 602.0h0M356.1 595.5h0M371.3 619.1h0M360.7 629.1h0M362.0 594.5h0M364.2 577.7h0M363.5 623.1h0M358.2 588.6h0M358.9 585.9h0M364.3 630.7h0M363.7 618.8h0M354.4 620.4h0M364.2 597.9h0M366.8 634.9h0M367.9 599.2h0M355.1 610.7h0M358.9 618.7h0M359.1 616.0h0M358.1 627.5h0M371.2 584.4h0M353.8 615.6h0M363.5 609.3h0M381.3 620.8h0M357.0 630.0h0M355.3 600.9h0M355.1 641.3h0M354.9 601.0h0M365.3 633.1h0M362.3 595.6h0M369.8 629.3h0M362.9 629.7h0M366.4 621.3h0M367.4 608.3h0M366.1 598.1h0M361.8 628.2h0M354.5 638.4h0M362.9 589.6h0M367.3 587.0h0M366.7 597.9h0M353.9 617.3h0M358.0 636.9h0M363.6 628.7h0M358.3 597.2h0M370.8 602.1h0M360.8 610.8h0M371.0 624.5h0M357.0 606.5h0M354.1 610.7h0M357.0 623.3h0M371.4 630.3h0M366.1 637.7h0M360.1 612.2h0M354.5 601.2h0M358.5 595.6h0M369.4 603.0h0M355.3 603.5h0M365.5 624.5h0M371.3 601.4h0M361.1 581.2h0M367.4 584.7h0M356.7 629.7h0M365.5 599.5h0M355.8 627.3h0M358.4 609.5h0M365.3 635.3h0M380.6 606.5h0M372.4 597.2h0M365.8 595.7h0M355.2 615.4h0M356.5 629.3h0M359.5 638.5h0M364.4 621.9h0M354.1 607.4h0M353.7 616.0h0M356.3 619.9h0M356.1 624.9h0M357.7 628.5h0M356.3 644.2h0M358.9 602.7h0M364.3 594.5h0M371.1 620.9h0M364.1 602.9h0M361.7 598.3h0M359.4 642.4h0M365.6 621.4h0M355.2 611.1h0M359.6 596.9h0M364.2 634.4h0M354.4 639.6h0M356.1 601.7h0M371.0 643.2h0M360.4 615.0h0M356.1 620.4h0M380.3 620.7h0M365.1 591.0h0M359.9 622.7h0M363.4 618.4h0M366.5 582.2h0M355.5 620.6h0M368.4 639.0h0M363.2 580.4h0M359.9 616.8h0M354.0 634.4h0M357.7 606.0h0M364.3 583.6h0M365.3 630.1h0M364.6 610.5h0M368.4 620.1h0M354.2 637.4h0M361.0 594.4h0M373.8 638.6h0M372.4 585.4h0M371.4 606.5h0M353.7 627.6h0M369.1 585.5h0M359.1 625.0h0M357.7 622.6h0M364.1 628.4h0M369.9 632.0h0M372.4 591.7h0M359.5 625.3h0M355.9 598.6h0M366.9 624.7h0M370.0 637.8h0M361.0 594.7h0M372.1 642.3h0M360.4 592.0h0M368.2 583.6h0M363.2 608.2h0M364.4 608.1h0M358.0 628.3h0M365.6 595.3h0M355.9 641.1h0M370.7 625.5h0M369.8 638.9h0M366.2 616.0h0M359.2 625.6h0M359.8 641.9h0M362.2 589.7h0M354.8 618.5h0M383.0 621.5h0M361.9 635.6h0M372.5 597.8h0M367.7 589.5h0M360.0 642.3h0M361.2 588.8h0M363.7 581.7h0M355.6 603.0h0M357.9 599.1h0M368.4 603.6h0M368.8 593.4h0M363.3 639.2h0M367.1 588.6h0M367.0 640.4h0M366.4 600.1h0M359.1 624.8h0M357.9 636.9h0M370.2 599.7h0M363.8 589.2h0M370.9 612.7h0M359.9 597.6h0M367.9 640.2h0M361.1 621.5h0M370.2 616.9h0M362.3 639.4h0M357.2 598.6h0M364.9 616.9h0M370.1 588.6h0M358.2 596.1h0M357.8 640.5h0M357.8 600.1h0M360.6 616.5h0M359.3 631.4h0M382.7 612.3h0M364.1 589.1h0M359.2 641.8h0M354.6 622.1h0M361.8 610.8h0M369.2 605.3h0M357.4 597.6h0M361.9 622.6h0M355.9 604.2h0M363.8 591.3h0M361.8 630.8h0M355.1 607.4h0M369.0 622.9h0M360.9 600.1h0M367.2 606.8h0M359.9 598.1h0M360.6 623.2h0M371.9 602.2h0M359.1 611.6h0M355.4 615.9h0M368.5 624.2h0M360.1 617.4h0M359.0 630.6h0M355.9 612.0h0M356.8 636.1h0M363.5 620.0h0M359.8 621.9h0M365.9 621.2h0M370.4 640.7h0M366.2 640.3h0M354.7 605.8h0M359.4 639.0h0M367.6 579.3h0M365.4 626.1h0M357.3 605.4h0M355.3 630.8h0M363.5 610.9h0M368.2 639.8h0M365.3 594.1h0M357.0 634.7h0M370.6 595.7h0M361.0 582.3h0M355.2 599.0h0M362.3 594.9h0M358.8 643.1h0M371.8 611.4h0M363.5 618.7h0M366.3 638.1h0M371.0 643.7h0M369.9 584.1h0M367.5 631.0h0M359.8 638.3h0M355.7 643.8h0M370.0 627.5h0M356.9 605.8h0M355.7 619.5h0M374.2 616.4h0M374.3 598.6h0M361.2 593.3h0M360.2 596.3h0M355.6 611.5h0M382.2 619.7h0M363.3 588.4h0M365.2 627.5h0M381.4 625.4h0M355.8 639.3h0M356.3 625.6h0M384.9 630.4h0M355.8 630.6h0M354.5 632.1h0M367.8 598.3h0M358.6 641.0h0M354.2 632.8h0M357.6 596.9h0M364.8 598.8h0M372.6 611.6h0M363.3 605.4h0M354.9 617.5h0M362.9 627.9h0M356.0 603.8h0M358.1 618.5h0M361.6 588.5h0M370.4 644.1h0M357.4 595.1h0M355.5 643.0h0M364.2 582.9h0M362.4 580.9h0M355.5 618.4h0M363.2 603.3h0M355.2 634.6h0M354.0 628.2h0M355.4 633.7h0M357.0 625.0h0M363.3 602.9h0M369.1 605.4h0M364.2 588.2h0M363.1 627.9h0M366.6 596.0h0M360.1 606.9h0M361.2 633.3h0M355.9 594.9h0M357.4 620.0h0M359.7 614.5h0M356.9 640.2h0M371.6 586.5h0M358.8 631.1h0M366.7 577.0h0M374.4 584.6h0M367.7 635.8h0M354.0 629.1h0M372.6 583.5h0M374.3 611.8h0M354.8 628.4h0M353.9 618.8h0M365.1 644.0h0M368.3 639.5h0M359.2 617.3h0M370.5 581.4h0M359.4 603.9h0M362.4 622.7h0M356.5 637.1h0M361.1 625.3h0M367.6 585.7h0M358.1 606.2h0M363.0 608.2h0M357.0 614.5h0M370.9 623.6h0M364.7 638.3h0M369.3 624.4h0M356.4 614.4h0M354.6 617.6h0M371.5 623.7h0M361.8 613.0h0M370.6 589.1h0M369.7 620.0h0M367.4 632.6h0M360.1 594.9h0M363.0 610.0h0M366.2 618.7h0M361.4 583.8h0M354.8 630.6h0M363.7 624.3h0M372.2 603.7h0M360.9 593.9h0M363.8 639.9h0M366.7 609.8h0M370.6 585.2h0M356.3 630.8h0M354.2 643.4h0M363.7 592.4h0M354.5 626.2h0M368.3 619.5h0M354.5 640.2h0M354.4 625.6h0M359.7 627.0h0M366.3 632.9h0M360.8 590.0h0M381.9 607.9h0M368.1 605.0h0M357.5 603.4h0M365.3 619.3h0M371.2 608.2h0M370.6 592.2h0M361.7 598.0h0M362.1 620.5h0M367.4 643.3h0M358.6 601.0h0M357.4 640.5h0M355.3 598.5h0M363.5 638.1h0M367.4 582.2h0M368.7 592.1h0M368.4 583.7h0M370.1 625.9h0M364.6 635.4h0M370.5 637.4h0M362.1 592.0h0M355.5 595.3h0M357.3 613.5h0M358.0 642.0h0M364.0 587.4h0M366.2 609.8h0M367.2 620.9h0M378.2 600.6h0M356.9 622.7h0M360.6 625.5h0M363.5 621.6h0M361.2 605.9h0M370.4 586.9h0M363.3 628.6h0M355.7 619.1h0M370.3 584.7h0M356.4 608.2h0M356.7 643.1h0M355.0 633.2h0M368.0 640.1h0M370.7 603.0h0M355.9 608.4h0M353.9 637.7h0M357.4 588.1h0M362.9 601.0h0M354.3 630.0h0M353.8 630.4h0M363.4 617.1h0M355.3 635.9h0M355.7 601.9h0M373.3 619.9h0M359.9 605.5h0M358.7 608.3h0M368.8 614.6h0M371.4 589.6h0M354.0 609.6h0M355.9 605.6h0M360.2 619.6h0M360.8 639.3h0M367.1 586.3h0M368.0 599.7h0M356.1 635.3h0M371.6 626.3h0M360.9 610.2h0M355.2 596.2h0M364.5 639.5h0M360.0 633.2h0M361.1 605.0h0M371.7 580.9h0M360.6 604.5h0M372.4 614.8h0M362.2 638.4h0M355.5 604.7h0M356.4 606.2h0M365.5 603.9h0M364.5 640.7h0M354.1 641.2h0M355.7 598.5h0M365.9 591.8h0M360.3 589.6h0M371.9 642.3h0M357.6 604.1h0M368.5 599.2h0M373.6 604.3h0M362.6 637.2h0M364.0 629.9h0M361.2 631.6h0M370.3 617.0h0M355.2 617.2h0M365.4 642.3h0M362.0 619.2h0M369.9 594.9h0M359.9 625.5h0M356.0 620.1h0M365.6 609.5h0M370.0 627.2h0M372.0 593.4h0M362.8 591.3h0M362.8 631.4h0M364.5 638.1h0M370.1 635.0h0M361.2 644.1h0M358.8 587.6h0M364.0 602.4h0M371.8 604.7h0M361.5 584.6h0M354.1 606.7h0M357.6 610.9h0M367.2 639.9h0M358.6 629.7h0M353.8 643.8h0M357.7 602.5h0M354.1 625.1h0M362.1 588.3h0M354.3 643.4h0M358.5 626.1h0M355.6 610.1h0M369.6 632.1h0M362.6 612.1h0M354.7 603.4h0M357.8 621.5h0M362.3 611.2h0M363.6 641.7h0M356.2 630.9h0M361.7 581.0h0M356.5 592.1h0M358.8 638.7h0M364.8 638.9h0M361.5 612.2h0M356.0 623.9h0M358.2 598.1h0M368.9 624.8h0M356.6 610.0h0M357.3 632.6h0M358.6 640.4h0M361.7 625.4h0M362.0 604.8h0M364.3 601.8h0M354.4 619.2h0M368.1 583.2h0M361.8 639.3h0M365.2 622.3h0M371.5 634.6h0M359.6 637.5h0M369.0 615.1h0M357.3 597.8h0M365.0 582.6h0M356.9 617.3h0M354.4 608.4h0M353.9 632.3h0M368.7 617.8h0M365.7 626.6h0M368.4 635.6h0M354.0 625.8h0M368.1 578.8h0M367.7 618.4h0M358.7 640.4h0M367.4 594.0h0M355.8 627.8h0M365.3 626.4h0M356.7 633.6h0M367.6 632.2h0M365.5 591.1h0M361.7 593.2h0M361.8 580.3h0M361.7 598.9h0M359.5 599.0h0M356.0 639.1h0M362.1 581.5h0M358.7 608.3h0M360.3 627.6h0M366.2 632.8h0M359.6 604.6h0M364.1 623.6h0M365.0 592.1h0M363.2 605.3h0M354.0 636.5h0M372.1 625.7h0M357.4 616.0h0M369.7 613.4h0M358.7 610.8h0M361.2 625.7h0M368.0 600.3h0M367.6 607.4h0M363.4 641.1h0M354.3 633.0h0M372.0 623.5h0M354.0 630.2h0M369.3 603.9h0M368.1 619.2h0M357.0 628.6h0M364.2 610.5h0M366.4 623.9h0M362.2 641.0h0M353.7 641.4h0M362.5 612.5h0M370.4 621.5h0M363.2 609.8h0M368.3 606.6h0M360.3 627.2h0M355.2 598.3h0M370.7 633.1h0M361.3 587.3h0M367.6 607.3h0M355.2 617.0h0M361.5 589.5h0M361.3 618.6h0M355.9 595.5h0M364.6 625.3h0M375.6 613.9h0M354.2 619.3h0M359.9 589.3h0M358.0 615.2h0M353.9 629.1h0M357.0 635.8h0M371.5 624.5h0M364.7 583.8h0M360.9 624.5h0M360.3 591.1h0M366.8 636.0h0M360.2 628.1h0M367.1 591.2h0M373.7 598.6h0M355.6 597.1h0M367.4 630.1h0M367.3 620.1h0M358.2 593.3h0M365.8 637.2h0M362.1 628.3h0M362.3 606.4h0M365.4 612.6h0M369.9 603.2h0M354.3 618.9h0M368.2 598.1h0M367.2 641.7h0M360.1 621.8h0M359.8 590.3h0M364.1 624.4h0M371.2 569.7h0M365.2 575.8h0M384.0 577.1h0M372.6 578.0h0M378.6 579.8h0M389.4 636.2h0M386.7 628.2h0M384.7 624.8h0M388.7 619.4h0M380.0 619.4h0M382.0 604.0h0M378.0 600.6h0M378.6 606.0h0M383.3 632.9h0M380.6 629.5h0" stroke="#69a93c" stroke-width="1.6" stroke-linecap="round" fill="none"/>
<rect x="0" y="0" width="520" height="1.3" fill="#000"/>
<rect x="0" y="0" width="1.4" height="706" fill="#000"/>
<rect x="518.7" y="0" width="1.3" height="706" fill="#000"/>
<rect x="0" y="704.7" width="520" height="1.3" fill="#000"/>
</svg></body></html>
